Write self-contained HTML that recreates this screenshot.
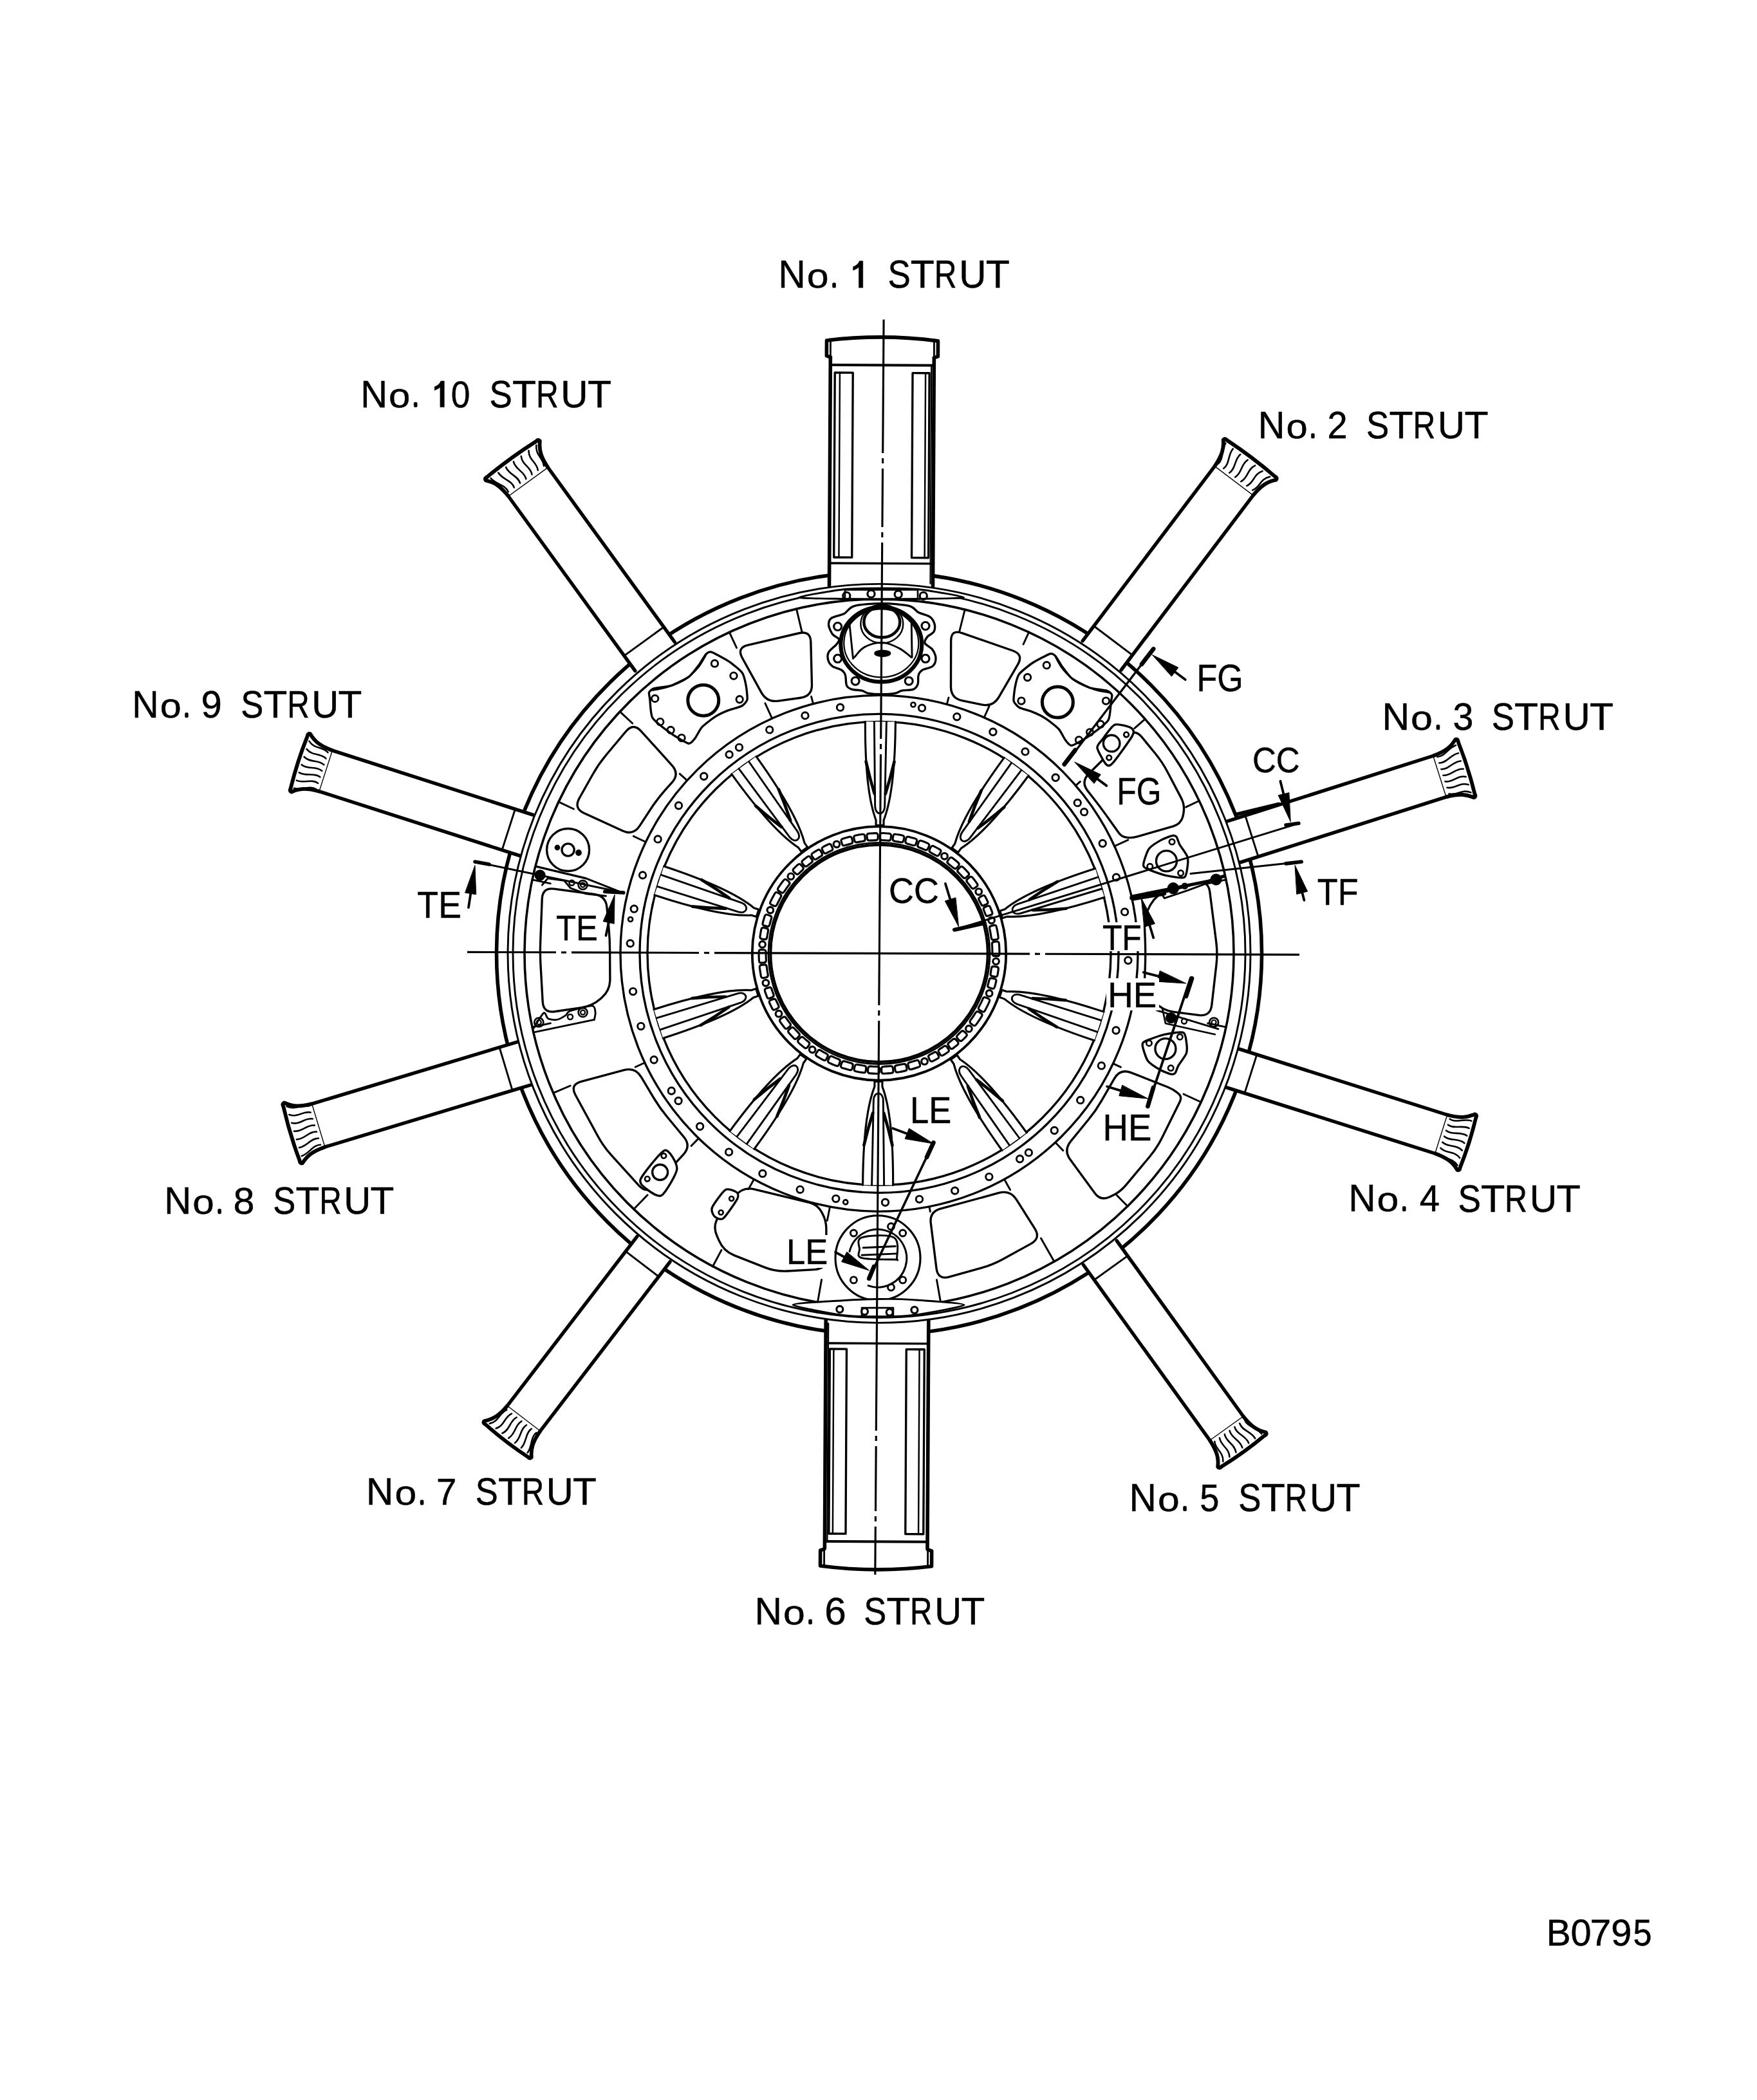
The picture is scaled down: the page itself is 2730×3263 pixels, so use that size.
<!DOCTYPE html>
<html><head><meta charset="utf-8"><style>html,body{margin:0;padding:0;background:#fff;}svg{display:block;}</style></head>
<body>
<svg xmlns="http://www.w3.org/2000/svg" width="2730" height="3263" viewBox="0 0 2730 3263">
<rect width="2730" height="3263" fill="#fff"/>
<g transform="translate(1366.0,1481.4) rotate(0.3)" stroke="#000" fill="none" stroke-linecap="round" stroke-linejoin="round">
<ellipse cx="0.0" cy="0.0" rx="594.5" ry="592.5" stroke-width="5.60" fill="none" transform="rotate(0 0.0 0.0)"/>
<ellipse cx="0.0" cy="0.0" rx="577.0" ry="574.0" stroke-width="2.91" fill="none" transform="rotate(0 0.0 0.0)"/>
<ellipse cx="0.0" cy="0.0" rx="569.0" ry="566.0" stroke-width="2.91" fill="none" transform="rotate(0 0.0 0.0)"/>
<ellipse cx="0.0" cy="0.0" rx="551.0" ry="550.5" stroke-width="3.58" fill="none" transform="rotate(0 0.0 0.0)"/>
<ellipse cx="0.0" cy="0.0" rx="402.0" ry="401.0" stroke-width="3.36" fill="none" transform="rotate(0 0.0 0.0)"/>
<ellipse cx="0.0" cy="0.0" rx="372.0" ry="372.0" stroke-width="3.36" fill="none" transform="rotate(0 0.0 0.0)"/>
<ellipse cx="0.0" cy="0.0" rx="360.0" ry="360.0" stroke-width="3.36" fill="none" transform="rotate(0 0.0 0.0)"/>
<ellipse cx="0.0" cy="0.0" rx="197.2" ry="197.2" stroke-width="3.81" fill="none" transform="rotate(0 0.0 0.0)"/>
<ellipse cx="0.0" cy="0.0" rx="172.0" ry="172.0" stroke-width="2.80" fill="none" transform="rotate(0 0.0 0.0)"/>
<ellipse cx="0.0" cy="0.0" rx="168.7" ry="168.7" stroke-width="4.03" fill="none" transform="rotate(0 0.0 0.0)"/>
<path d="M 108.4,-148.1 Q 110.4,-150.9 113.2,-148.8 L 115.0,-147.4 Q 117.8,-145.2 120.5,-143.0 L 122.2,-141.5 Q 124.9,-139.2 122.5,-136.6 L 119.9,-133.6 Q 117.5,-131.0 114.9,-133.3 L 113.5,-134.4 Q 110.9,-136.7 108.1,-138.8 L 106.7,-139.9 Q 103.9,-142.0 106.0,-144.8 Z" stroke-width="3.14" fill="none" />
<path d="M 124.9,-134.4 Q 127.3,-137.0 129.8,-134.5 L 131.4,-132.9 Q 133.9,-130.5 136.3,-127.9 L 137.9,-126.2 Q 140.3,-123.7 137.6,-121.4 L 134.6,-118.7 Q 132.0,-116.4 129.6,-119.0 L 128.4,-120.2 Q 126.1,-122.8 123.6,-125.3 L 122.3,-126.5 Q 119.8,-128.9 122.2,-131.5 Z" stroke-width="3.14" fill="none" />
<path d="M 139.7,-118.9 Q 142.4,-121.2 144.6,-118.5 L 146.1,-116.7 Q 148.3,-114.0 150.3,-111.1 L 151.7,-109.3 Q 153.7,-106.5 150.9,-104.5 L 147.6,-102.2 Q 144.7,-100.2 142.6,-103.0 L 141.6,-104.4 Q 139.5,-107.3 137.3,-110.0 L 136.2,-111.3 Q 134.0,-114.1 136.7,-116.3 Z" stroke-width="3.14" fill="none" />
<path d="M 159.8,-90.4 Q 162.8,-92.1 164.4,-89.1 L 164.7,-88.5 Q 166.3,-85.5 167.8,-82.4 L 168.1,-81.8 Q 169.6,-78.7 166.5,-77.3 L 162.6,-75.5 Q 159.6,-74.1 158.2,-77.0 L 157.9,-77.6 Q 156.5,-80.4 155.0,-83.3 L 154.7,-83.8 Q 153.2,-86.7 156.0,-88.2 Z" stroke-width="3.14" fill="none" />
<path d="M 167.8,-74.4 Q 171.0,-75.8 172.3,-72.6 L 172.5,-72.0 Q 173.9,-68.8 175.1,-65.6 L 175.3,-65.0 Q 176.5,-61.8 173.3,-60.7 L 169.1,-59.2 Q 166.1,-58.2 165.0,-61.2 L 164.8,-61.8 Q 163.6,-64.8 162.4,-67.8 L 162.2,-68.3 Q 160.9,-71.3 163.8,-72.6 Z" stroke-width="3.14" fill="none" />
<path d="M 178.0,-44.7 Q 181.4,-45.6 182.1,-42.1 L 183.1,-37.7 Q 183.8,-34.3 184.4,-30.9 L 185.0,-26.4 Q 185.6,-23.0 182.1,-22.5 L 178.1,-22.0 Q 174.7,-21.6 174.1,-25.1 L 173.5,-28.8 Q 173.0,-32.3 172.3,-35.7 L 171.4,-39.5 Q 170.7,-42.9 174.1,-43.7 Z" stroke-width="3.14" fill="none" />
<path d="M 182.5,-19.3 Q 186.0,-19.7 186.2,-16.2 L 186.6,-11.7 Q 186.8,-8.2 186.9,-4.7 L 186.9,-0.2 Q 187.0,3.3 183.5,3.2 L 179.5,3.1 Q 176.0,3.1 175.9,-0.4 L 175.9,-4.3 Q 175.8,-7.8 175.6,-11.2 L 175.3,-15.1 Q 175.0,-18.5 178.5,-18.9 Z" stroke-width="3.14" fill="none" />
<path d="M 182.4,19.8 Q 185.9,20.2 185.5,23.7 L 185.3,24.7 Q 184.9,28.1 184.3,31.6 L 184.1,32.6 Q 183.5,36.0 180.1,35.3 L 176.1,34.5 Q 172.7,33.9 173.3,30.5 L 173.4,29.8 Q 174.0,26.5 174.4,23.1 L 174.5,22.4 Q 175.0,19.0 178.4,19.4 Z" stroke-width="3.14" fill="none" />
<path d="M 179.4,38.5 Q 182.8,39.2 182.0,42.6 L 181.8,43.6 Q 181.0,47.0 180.1,50.3 L 179.8,51.3 Q 178.8,54.7 175.5,53.7 L 171.6,52.5 Q 168.3,51.5 169.2,48.2 L 169.4,47.5 Q 170.4,44.2 171.1,40.9 L 171.3,40.2 Q 172.1,36.9 175.4,37.6 Z" stroke-width="3.14" fill="none" />
<path d="M 169.9,69.3 Q 173.1,70.7 171.7,73.9 L 170.0,77.8 Q 168.5,81.0 166.9,84.1 L 164.9,88.0 Q 163.3,91.1 160.3,89.4 L 156.8,87.4 Q 153.7,85.7 155.3,82.6 L 157.0,79.4 Q 158.6,76.3 160.0,73.1 L 161.5,69.7 Q 163.0,66.5 166.2,67.8 Z" stroke-width="3.14" fill="none" />
<path d="M 158.7,92.2 Q 161.7,93.9 159.9,96.9 L 157.6,100.6 Q 155.7,103.6 153.7,106.4 L 151.2,109.9 Q 149.1,112.8 146.4,110.7 L 143.2,108.3 Q 140.4,106.2 142.4,103.3 L 144.5,100.3 Q 146.6,97.5 148.4,94.5 L 150.3,91.4 Q 152.2,88.4 155.2,90.2 Z" stroke-width="3.14" fill="none" />
<path d="M 135.7,123.5 Q 138.3,125.9 135.9,128.4 L 135.4,128.9 Q 133.0,131.5 130.5,133.9 L 129.9,134.4 Q 127.4,136.9 125.0,134.3 L 122.2,131.3 Q 119.9,128.8 122.3,126.5 L 122.8,126.1 Q 125.2,123.7 127.4,121.3 L 127.9,120.9 Q 130.2,118.5 132.6,120.7 Z" stroke-width="3.14" fill="none" />
<path d="M 122.7,136.5 Q 125.0,139.1 122.4,141.4 L 121.8,141.9 Q 119.1,144.1 116.4,146.3 L 115.8,146.8 Q 113.1,149.0 110.9,146.2 L 108.4,142.8 Q 106.4,140.2 109.0,138.1 L 109.5,137.7 Q 112.1,135.7 114.6,133.5 L 115.1,133.1 Q 117.7,130.9 119.9,133.4 Z" stroke-width="3.14" fill="none" />
<path d="M 108.4,148.1 Q 110.4,150.9 107.6,152.9 L 107.0,153.3 Q 104.1,155.3 101.1,157.2 L 100.5,157.6 Q 97.6,159.5 95.7,156.5 L 93.6,153.0 Q 91.8,150.1 94.6,148.4 L 95.2,148.0 Q 98.0,146.2 100.7,144.3 L 101.2,143.9 Q 103.9,142.0 105.9,144.7 Z" stroke-width="3.14" fill="none" />
<path d="M 93.0,158.2 Q 94.8,161.2 91.7,162.9 L 91.1,163.3 Q 88.0,165.0 84.9,166.6 L 84.2,166.9 Q 81.1,168.5 79.6,165.3 L 77.8,161.6 Q 76.3,158.6 79.3,157.1 L 79.9,156.8 Q 82.8,155.3 85.7,153.7 L 86.3,153.3 Q 89.2,151.7 90.9,154.6 Z" stroke-width="3.14" fill="none" />
<path d="M 64.3,171.9 Q 65.5,175.2 62.2,176.3 L 60.0,177.0 Q 56.7,178.2 53.4,179.2 L 51.2,179.8 Q 47.8,180.8 47.0,177.4 L 45.9,173.5 Q 45.0,170.1 48.4,169.2 L 50.0,168.7 Q 53.4,167.7 56.7,166.6 L 58.3,166.0 Q 61.6,164.9 62.9,168.1 Z" stroke-width="3.14" fill="none" />
<path d="M 43.8,178.2 Q 44.7,181.6 41.3,182.3 L 39.1,182.8 Q 35.6,183.6 32.2,184.2 L 30.0,184.5 Q 26.5,185.1 26.0,181.6 L 25.4,177.7 Q 25.0,174.2 28.4,173.6 L 30.1,173.4 Q 33.5,172.8 37.0,172.0 L 38.6,171.7 Q 42.1,170.9 42.9,174.3 Z" stroke-width="3.14" fill="none" />
<path d="M 22.8,182.1 Q 23.3,185.5 19.8,185.9 L 17.5,186.1 Q 14.1,186.5 10.6,186.6 L 8.3,186.8 Q 4.8,186.9 4.7,183.4 L 4.6,179.4 Q 4.5,175.9 8.0,175.8 L 9.7,175.7 Q 13.2,175.5 16.7,175.2 L 18.4,175.0 Q 21.9,174.6 22.3,178.1 Z" stroke-width="3.14" fill="none" />
<path d="M 1.5,183.5 Q 1.6,187.0 -1.9,186.9 L -4.2,186.9 Q -7.7,186.8 -11.2,186.6 L -13.5,186.5 Q -16.9,186.2 -16.6,182.7 L -16.3,178.8 Q -16.0,175.3 -12.5,175.5 L -10.7,175.6 Q -7.3,175.9 -3.8,175.9 L -2.0,175.9 Q 1.5,176.0 1.5,179.5 Z" stroke-width="3.14" fill="none" />
<path d="M -19.8,182.4 Q -20.2,185.9 -23.7,185.4 L -25.9,185.1 Q -29.4,184.7 -32.8,184.0 L -35.0,183.6 Q -38.5,183.0 -37.8,179.6 L -36.9,175.7 Q -36.2,172.2 -32.8,172.9 L -31.1,173.2 Q -27.6,173.8 -24.2,174.3 L -22.5,174.5 Q -19.0,175.0 -19.4,178.5 Z" stroke-width="3.14" fill="none" />
<path d="M -40.9,178.9 Q -41.7,182.3 -45.1,181.4 L -47.2,180.9 Q -50.6,180.0 -54.0,179.0 L -56.1,178.3 Q -59.5,177.3 -58.4,174.0 L -57.1,170.2 Q -56.0,166.9 -52.6,167.9 L -51.0,168.4 Q -47.7,169.4 -44.3,170.3 L -42.6,170.7 Q -39.2,171.6 -40.0,175.0 Z" stroke-width="3.14" fill="none" />
<path d="M -61.4,172.9 Q -62.6,176.2 -65.8,175.0 L -68.0,174.2 Q -71.2,172.9 -74.4,171.5 L -76.5,170.6 Q -79.7,169.2 -78.2,166.0 L -76.5,162.4 Q -75.0,159.2 -71.8,160.6 L -70.2,161.3 Q -67.0,162.7 -63.8,164.0 L -62.2,164.6 Q -58.9,165.9 -60.1,169.2 Z" stroke-width="3.14" fill="none" />
<path d="M -81.1,164.6 Q -82.6,167.8 -85.7,166.1 L -87.7,165.1 Q -90.8,163.5 -93.9,161.7 L -95.8,160.5 Q -98.8,158.8 -97.0,155.8 L -94.9,152.4 Q -93.0,149.4 -90.0,151.2 L -88.5,152.1 Q -85.5,153.8 -82.4,155.5 L -80.9,156.3 Q -77.8,157.9 -79.3,161.0 Z" stroke-width="3.14" fill="none" />
<path d="M -110.7,146.4 Q -112.8,149.1 -115.5,147.0 L -117.3,145.6 Q -120.0,143.4 -122.7,141.1 L -124.3,139.6 Q -127.0,137.3 -124.6,134.7 L -121.9,131.8 Q -119.5,129.2 -116.9,131.5 L -115.6,132.6 Q -113.0,135.0 -110.2,137.1 L -108.9,138.2 Q -106.2,140.4 -108.3,143.2 Z" stroke-width="3.14" fill="none" />
<path d="M -126.9,132.5 Q -129.4,135.0 -131.8,132.6 L -133.4,131.0 Q -135.9,128.5 -138.2,125.9 L -139.7,124.2 Q -142.1,121.6 -139.4,119.3 L -136.4,116.7 Q -133.7,114.5 -131.4,117.1 L -130.2,118.3 Q -127.9,120.9 -125.4,123.4 L -124.2,124.6 Q -121.7,127.1 -124.2,129.6 Z" stroke-width="3.14" fill="none" />
<path d="M -141.5,116.9 Q -144.2,119.1 -146.3,116.4 L -147.7,114.6 Q -149.9,111.8 -151.9,109.0 L -153.2,107.2 Q -155.2,104.3 -152.3,102.3 L -149.0,100.1 Q -146.1,98.2 -144.1,101.0 L -143.1,102.4 Q -141.1,105.3 -138.9,108.0 L -137.8,109.4 Q -135.7,112.1 -138.4,114.3 Z" stroke-width="3.14" fill="none" />
<path d="M -161.0,88.1 Q -164.0,89.8 -165.6,86.7 L -166.2,85.5 Q -167.9,82.4 -169.3,79.2 L -169.9,78.0 Q -171.4,74.9 -168.2,73.5 L -164.5,71.9 Q -161.3,70.5 -159.8,73.6 L -159.5,74.4 Q -158.0,77.6 -156.4,80.7 L -156.0,81.4 Q -154.4,84.5 -157.4,86.2 Z" stroke-width="3.14" fill="none" />
<path d="M -169.4,70.5 Q -172.6,71.9 -173.9,68.6 L -174.4,67.4 Q -175.7,64.1 -176.8,60.8 L -177.2,59.5 Q -178.3,56.2 -175.0,55.2 L -171.2,54.0 Q -167.9,52.9 -166.7,56.2 L -166.5,57.0 Q -165.3,60.3 -164.1,63.6 L -163.8,64.4 Q -162.5,67.6 -165.7,69.0 Z" stroke-width="3.14" fill="none" />
<path d="M -179.3,39.1 Q -182.7,39.8 -183.4,36.4 L -184.0,33.0 Q -184.6,29.6 -185.1,26.1 L -185.6,22.7 Q -186.0,19.2 -182.5,18.9 L -178.5,18.5 Q -175.1,18.1 -174.6,21.6 L -174.2,24.4 Q -173.8,27.8 -173.1,31.3 L -172.6,34.1 Q -172.0,37.5 -175.4,38.2 Z" stroke-width="3.14" fill="none" />
<path d="M -182.8,15.7 Q -186.3,16.0 -186.5,12.5 L -186.7,9.0 Q -186.9,5.5 -186.9,2.0 L -186.9,-1.4 Q -186.9,-4.9 -183.4,-4.8 L -179.4,-4.7 Q -175.9,-4.6 -175.9,-1.1 L -175.9,1.7 Q -175.9,5.2 -175.7,8.7 L -175.6,11.5 Q -175.4,15.0 -178.8,15.3 Z" stroke-width="3.14" fill="none" />
<path d="M -182.2,-21.4 Q -185.7,-21.8 -185.2,-25.3 L -184.9,-27.3 Q -184.4,-30.8 -183.8,-34.2 L -183.4,-36.2 Q -182.7,-39.7 -179.3,-38.9 L -175.4,-38.1 Q -172.0,-37.3 -172.7,-33.9 L -172.9,-32.4 Q -173.6,-29.0 -174.1,-25.5 L -174.3,-24.0 Q -174.8,-20.5 -178.3,-20.9 Z" stroke-width="3.14" fill="none" />
<path d="M -178.6,-42.1 Q -182.0,-42.9 -181.1,-46.2 L -180.6,-48.2 Q -179.7,-51.6 -178.7,-55.0 L -178.1,-56.9 Q -177.0,-60.3 -173.7,-59.1 L -169.9,-57.8 Q -166.6,-56.7 -167.7,-53.4 L -168.1,-51.9 Q -169.2,-48.6 -170.0,-45.2 L -170.4,-43.7 Q -171.3,-40.3 -174.7,-41.1 Z" stroke-width="3.14" fill="none" />
<path d="M -167.6,-74.6 Q -170.8,-76.1 -169.3,-79.2 L -167.7,-82.6 Q -166.2,-85.8 -164.5,-88.8 L -162.7,-92.1 Q -161.0,-95.2 -157.9,-93.4 L -154.5,-91.4 Q -151.5,-89.6 -153.2,-86.5 L -154.7,-83.8 Q -156.4,-80.7 -157.9,-77.6 L -159.3,-74.7 Q -160.8,-71.6 -164.0,-73.0 Z" stroke-width="3.14" fill="none" />
<path d="M -156.3,-96.2 Q -159.3,-98.0 -157.4,-100.9 L -155.3,-104.1 Q -153.4,-107.0 -151.3,-109.8 L -149.0,-112.8 Q -147.0,-115.6 -144.2,-113.5 L -141.1,-111.0 Q -138.3,-108.8 -140.4,-106.0 L -142.3,-103.5 Q -144.3,-100.7 -146.3,-97.8 L -148.0,-95.1 Q -149.9,-92.2 -152.9,-94.1 Z" stroke-width="3.14" fill="none" />
<path d="M -133.3,-126.1 Q -135.9,-128.5 -133.4,-131.0 L -132.8,-131.6 Q -130.3,-134.1 -127.8,-136.5 L -127.1,-137.1 Q -124.5,-139.5 -122.2,-136.9 L -119.4,-133.8 Q -117.2,-131.3 -119.7,-129.0 L -120.2,-128.5 Q -122.6,-126.2 -125.0,-123.8 L -125.5,-123.3 Q -127.9,-120.9 -130.3,-123.3 Z" stroke-width="3.14" fill="none" />
<path d="M -119.8,-139.0 Q -122.1,-141.7 -119.4,-143.9 L -118.7,-144.5 Q -116.0,-146.7 -113.2,-148.8 L -112.4,-149.4 Q -109.7,-151.5 -107.6,-148.6 L -105.2,-145.3 Q -103.2,-142.6 -105.9,-140.5 L -106.4,-140.1 Q -109.1,-138.1 -111.8,-135.9 L -112.3,-135.5 Q -114.9,-133.3 -117.1,-135.9 Z" stroke-width="3.14" fill="none" />
<path d="M -105.0,-150.5 Q -107.0,-153.4 -104.1,-155.3 L -103.3,-155.8 Q -100.4,-157.8 -97.4,-159.6 L -96.6,-160.0 Q -93.6,-161.9 -91.9,-158.8 L -89.8,-155.3 Q -88.1,-152.3 -91.0,-150.6 L -91.6,-150.2 Q -94.5,-148.5 -97.3,-146.6 L -97.9,-146.2 Q -100.7,-144.3 -102.6,-147.1 Z" stroke-width="3.14" fill="none" />
<path d="M -89.1,-160.4 Q -90.8,-163.5 -87.7,-165.1 L -86.9,-165.5 Q -83.8,-167.2 -80.6,-168.7 L -79.8,-169.1 Q -76.7,-170.6 -75.2,-167.4 L -73.5,-163.6 Q -72.1,-160.5 -75.2,-159.1 L -75.8,-158.8 Q -78.9,-157.3 -81.9,-155.8 L -82.5,-155.4 Q -85.5,-153.9 -87.1,-156.8 Z" stroke-width="3.14" fill="none" />
<path d="M -59.7,-173.5 Q -60.9,-176.8 -57.5,-177.9 L -55.9,-178.4 Q -52.5,-179.5 -49.1,-180.4 L -47.4,-180.8 Q -44.1,-181.7 -43.2,-178.3 L -42.3,-174.4 Q -41.5,-171.0 -44.8,-170.1 L -46.1,-169.8 Q -49.4,-168.9 -52.8,-167.9 L -54.0,-167.5 Q -57.3,-166.4 -58.4,-169.7 Z" stroke-width="3.14" fill="none" />
<path d="M -40.1,-179.1 Q -40.9,-182.5 -37.4,-183.2 L -35.7,-183.5 Q -32.3,-184.2 -28.8,-184.7 L -27.1,-185.0 Q -23.6,-185.5 -23.2,-182.0 L -22.7,-178.1 Q -22.2,-174.6 -25.7,-174.1 L -26.9,-173.9 Q -30.4,-173.4 -33.8,-172.7 L -35.0,-172.4 Q -38.5,-171.7 -39.2,-175.2 Z" stroke-width="3.14" fill="none" />
<path d="M -20.0,-182.4 Q -20.4,-185.9 -16.9,-186.2 L -15.1,-186.3 Q -11.6,-186.6 -8.1,-186.8 L -6.4,-186.8 Q -2.9,-187.0 -2.8,-183.5 L -2.7,-179.5 Q -2.7,-176.0 -6.2,-175.8 L -7.4,-175.8 Q -10.9,-175.7 -14.4,-175.4 L -15.7,-175.3 Q -19.2,-175.0 -19.5,-178.4 Z" stroke-width="3.14" fill="none" />
<path d="M 0.4,-183.5 Q 0.4,-187.0 3.9,-186.9 L 5.7,-186.9 Q 9.2,-186.8 12.7,-186.5 L 14.4,-186.4 Q 17.9,-186.1 17.6,-182.7 L 17.2,-178.7 Q 16.9,-175.2 13.4,-175.4 L 12.1,-175.5 Q 8.6,-175.8 5.1,-175.9 L 3.9,-175.9 Q 0.4,-176.0 0.4,-179.5 Z" stroke-width="3.14" fill="none" />
<path d="M 20.8,-182.3 Q 21.2,-185.8 24.6,-185.3 L 26.4,-185.1 Q 29.9,-184.6 33.3,-184.0 L 35.0,-183.6 Q 38.5,-183.0 37.8,-179.6 L 36.9,-175.7 Q 36.2,-172.2 32.8,-172.9 L 31.5,-173.1 Q 28.1,-173.7 24.6,-174.2 L 23.4,-174.4 Q 19.9,-174.9 20.3,-178.3 Z" stroke-width="3.14" fill="none" />
<path d="M 40.9,-178.9 Q 41.7,-182.3 45.1,-181.4 L 46.8,-181.0 Q 50.2,-180.1 53.5,-179.1 L 55.2,-178.6 Q 58.6,-177.6 57.5,-174.3 L 56.2,-170.5 Q 55.1,-167.1 51.8,-168.2 L 50.6,-168.5 Q 47.2,-169.5 43.8,-170.4 L 42.6,-170.7 Q 39.2,-171.6 40.0,-175.0 Z" stroke-width="3.14" fill="none" />
<path d="M 60.5,-173.2 Q 61.7,-176.5 64.9,-175.3 L 66.6,-174.7 Q 69.9,-173.5 73.1,-172.1 L 74.7,-171.4 Q 77.9,-170.0 76.5,-166.8 L 74.8,-163.2 Q 73.3,-160.0 70.1,-161.4 L 69.0,-161.9 Q 65.8,-163.3 62.5,-164.5 L 61.3,-164.9 Q 58.0,-166.2 59.2,-169.5 Z" stroke-width="3.14" fill="none" />
<path d="M 79.4,-165.5 Q 80.9,-168.6 84.0,-167.0 L 85.6,-166.2 Q 88.7,-164.6 91.7,-162.9 L 93.3,-162.0 Q 96.3,-160.3 94.5,-157.3 L 92.4,-153.9 Q 90.6,-150.9 87.6,-152.6 L 86.5,-153.2 Q 83.5,-154.9 80.4,-156.5 L 79.2,-157.1 Q 76.1,-158.7 77.6,-161.8 Z" stroke-width="3.14" fill="none" />
<circle cx="100.7" cy="-151.6" r="4.8" stroke-width="3.14" fill="none"/>
<circle cx="154.2" cy="-96.7" r="4.8" stroke-width="3.14" fill="none"/>
<circle cx="174.3" cy="-52.3" r="4.8" stroke-width="3.14" fill="none"/>
<circle cx="181.6" cy="11.4" r="4.8" stroke-width="3.14" fill="none"/>
<circle cx="171.5" cy="61.1" r="4.8" stroke-width="3.14" fill="none"/>
<circle cx="140.0" cy="116.3" r="4.8" stroke-width="3.14" fill="none"/>
<circle cx="71.4" cy="167.4" r="4.8" stroke-width="3.14" fill="none"/>
<circle cx="-103.1" cy="150.0" r="4.8" stroke-width="3.14" fill="none"/>
<circle cx="-155.5" cy="94.6" r="4.8" stroke-width="3.14" fill="none"/>
<circle cx="-175.9" cy="46.8" r="4.8" stroke-width="3.14" fill="none"/>
<circle cx="-181.5" cy="-13.0" r="4.8" stroke-width="3.14" fill="none"/>
<circle cx="-169.5" cy="-66.4" r="4.8" stroke-width="3.14" fill="none"/>
<circle cx="-137.8" cy="-118.9" r="4.8" stroke-width="3.14" fill="none"/>
<circle cx="-67.0" cy="-169.2" r="4.8" stroke-width="3.14" fill="none"/>
<path d="M -23.5,-360.0 C -23.5,-290.0 -18.0,-238.0 -6.0,-207.0 L -6.0,-199.0 L 6.0,-199.0 L 6.0,-207.0 C 18.0,-238.0 23.5,-290.0 23.5,-360.0" stroke-width="3.14" fill="white" />
<path d="M -9.5,-360.0 L -7.5,-228.0 C -7.0,-214.0 7.0,-214.0 7.5,-228.0 L 9.5,-360.0" stroke-width="2.91" fill="none" />
<path d="M -22.0,-298.0 Q -16.0,-272.0 -8.5,-248.0" stroke-width="4.70" fill="none" />
<path d="M 22.0,-298.0 Q 16.0,-272.0 8.5,-248.0" stroke-width="4.70" fill="none" />
<path d="M 192.6,-305.1 C 151.4,-248.4 125.3,-203.1 116.8,-171.0 L 112.1,-164.5 L 121.8,-157.5 L 126.5,-163.9 C 154.5,-182.0 189.5,-220.8 230.6,-277.4" stroke-width="3.14" fill="white" />
<path d="M 203.9,-296.8 L 127.9,-188.9 C 120.1,-177.2 131.4,-169.0 140.1,-180.0 L 219.3,-285.7" stroke-width="2.91" fill="none" />
<path d="M 157.4,-254.0 Q 146.9,-229.5 138.9,-205.6" stroke-width="4.70" fill="none" />
<path d="M 193.0,-228.2 Q 172.8,-210.6 152.6,-195.6" stroke-width="4.70" fill="none" />
<path d="M 335.1,-133.6 C 268.5,-112.0 220.8,-90.7 195.0,-69.7 L 187.4,-67.2 L 191.1,-55.8 L 198.7,-58.3 C 231.9,-56.4 283.1,-67.3 349.6,-88.9" stroke-width="3.14" fill="white" />
<path d="M 339.4,-120.3 L 214.5,-77.6 C 201.4,-72.8 205.7,-59.5 219.2,-63.3 L 345.3,-102.2" stroke-width="2.91" fill="none" />
<path d="M 276.6,-113.0 Q 253.7,-99.3 233.2,-84.7" stroke-width="4.70" fill="none" />
<path d="M 290.2,-71.2 Q 263.6,-68.8 238.5,-68.6" stroke-width="4.70" fill="none" />
<path d="M 349.6,88.9 C 283.1,67.3 231.9,56.4 198.7,58.3 L 191.1,55.8 L 187.4,67.2 L 195.0,69.7 C 220.8,90.7 268.5,112.0 335.1,133.6" stroke-width="3.14" fill="white" />
<path d="M 345.3,102.2 L 219.2,63.3 C 205.7,59.5 201.4,72.8 214.5,77.6 L 339.4,120.3" stroke-width="2.91" fill="none" />
<path d="M 290.2,71.2 Q 263.6,68.8 238.5,68.6" stroke-width="4.70" fill="none" />
<path d="M 276.6,113.0 Q 253.7,99.3 233.2,84.7" stroke-width="4.70" fill="none" />
<path d="M 230.6,277.4 C 189.5,220.8 154.5,182.0 126.5,163.9 L 121.8,157.5 L 112.1,164.5 L 116.8,171.0 C 125.3,203.1 151.4,248.4 192.6,305.1" stroke-width="3.14" fill="white" />
<path d="M 219.3,285.7 L 140.1,180.0 C 131.4,169.0 120.1,177.2 127.9,188.9 L 203.9,296.8" stroke-width="2.91" fill="none" />
<path d="M 193.0,228.2 Q 172.8,210.6 152.6,195.6" stroke-width="4.70" fill="none" />
<path d="M 157.4,254.0 Q 146.9,229.5 138.9,205.6" stroke-width="4.70" fill="none" />
<path d="M 23.5,360.0 C 23.5,290.0 18.0,238.0 6.0,207.0 L 6.0,199.0 L -6.0,199.0 L -6.0,207.0 C -18.0,238.0 -23.5,290.0 -23.5,360.0" stroke-width="3.14" fill="white" />
<path d="M 9.5,360.0 L 7.5,228.0 C 7.0,214.0 -7.0,214.0 -7.5,228.0 L -9.5,360.0" stroke-width="2.91" fill="none" />
<path d="M 22.0,298.0 Q 16.0,272.0 8.5,248.0" stroke-width="4.70" fill="none" />
<path d="M -22.0,298.0 Q -16.0,272.0 -8.5,248.0" stroke-width="4.70" fill="none" />
<path d="M -192.6,305.1 C -151.4,248.4 -125.3,203.1 -116.8,171.0 L -112.1,164.5 L -121.8,157.5 L -126.5,163.9 C -154.5,182.0 -189.5,220.8 -230.6,277.4" stroke-width="3.14" fill="white" />
<path d="M -203.9,296.8 L -127.9,188.9 C -120.1,177.2 -131.4,169.0 -140.1,180.0 L -219.3,285.7" stroke-width="2.91" fill="none" />
<path d="M -157.4,254.0 Q -146.9,229.5 -138.9,205.6" stroke-width="4.70" fill="none" />
<path d="M -193.0,228.2 Q -172.8,210.6 -152.6,195.6" stroke-width="4.70" fill="none" />
<path d="M -335.1,133.6 C -268.5,112.0 -220.8,90.7 -195.0,69.7 L -187.4,67.2 L -191.1,55.8 L -198.7,58.3 C -231.9,56.4 -283.1,67.3 -349.6,88.9" stroke-width="3.14" fill="white" />
<path d="M -339.4,120.3 L -214.5,77.6 C -201.4,72.8 -205.7,59.5 -219.2,63.3 L -345.3,102.2" stroke-width="2.91" fill="none" />
<path d="M -276.6,113.0 Q -253.7,99.3 -233.2,84.7" stroke-width="4.70" fill="none" />
<path d="M -290.2,71.2 Q -263.6,68.8 -238.5,68.6" stroke-width="4.70" fill="none" />
<path d="M -349.6,-88.9 C -283.1,-67.3 -231.9,-56.4 -198.7,-58.3 L -191.1,-55.8 L -187.4,-67.2 L -195.0,-69.7 C -220.8,-90.7 -268.5,-112.0 -335.1,-133.6" stroke-width="3.14" fill="white" />
<path d="M -345.3,-102.2 L -219.2,-63.3 C -205.7,-59.5 -201.4,-72.8 -214.5,-77.6 L -339.4,-120.3" stroke-width="2.91" fill="none" />
<path d="M -290.2,-71.2 Q -263.6,-68.8 -238.5,-68.6" stroke-width="4.70" fill="none" />
<path d="M -276.6,-113.0 Q -253.7,-99.3 -233.2,-84.7" stroke-width="4.70" fill="none" />
<path d="M -230.6,-277.4 C -189.5,-220.8 -154.5,-182.0 -126.5,-163.9 L -121.8,-157.5 L -112.1,-164.5 L -116.8,-171.0 C -125.3,-203.1 -151.4,-248.4 -192.6,-305.1" stroke-width="3.14" fill="white" />
<path d="M -219.3,-285.7 L -140.1,-180.0 C -131.4,-169.0 -120.1,-177.2 -127.9,-188.9 L -203.9,-296.8" stroke-width="2.91" fill="none" />
<path d="M -193.0,-228.2 Q -172.8,-210.6 -152.6,-195.6" stroke-width="4.70" fill="none" />
<path d="M -157.4,-254.0 Q -146.9,-229.5 -138.9,-205.6" stroke-width="4.70" fill="none" />
<circle cx="64.5" cy="-381.6" r="5.2" stroke-width="2.91" fill="none"/>
<circle cx="118.9" cy="-368.3" r="5.2" stroke-width="2.91" fill="none"/>
<circle cx="175.1" cy="-345.1" r="5.2" stroke-width="2.91" fill="none"/>
<circle cx="225.3" cy="-314.7" r="5.2" stroke-width="2.91" fill="none"/>
<circle cx="272.7" cy="-274.6" r="5.2" stroke-width="2.91" fill="none"/>
<circle cx="307.0" cy="-235.6" r="5.2" stroke-width="2.91" fill="none"/>
<circle cx="317.4" cy="-221.4" r="5.2" stroke-width="2.91" fill="none"/>
<circle cx="346.3" cy="-172.7" r="5.2" stroke-width="2.91" fill="none"/>
<circle cx="367.8" cy="-120.2" r="5.2" stroke-width="2.91" fill="none"/>
<circle cx="381.2" cy="-66.5" r="5.2" stroke-width="2.91" fill="none"/>
<circle cx="386.9" cy="8.8" r="5.2" stroke-width="2.91" fill="none"/>
<circle cx="368.7" cy="117.7" r="5.2" stroke-width="2.91" fill="none"/>
<circle cx="346.3" cy="172.7" r="5.2" stroke-width="2.91" fill="none"/>
<circle cx="313.9" cy="226.4" r="5.2" stroke-width="2.91" fill="none"/>
<circle cx="273.7" cy="273.7" r="5.2" stroke-width="2.91" fill="none"/>
<circle cx="234.0" cy="308.3" r="5.2" stroke-width="2.91" fill="none"/>
<circle cx="220.3" cy="318.2" r="5.2" stroke-width="2.91" fill="none"/>
<circle cx="172.7" cy="346.3" r="5.2" stroke-width="2.91" fill="none"/>
<circle cx="119.6" cy="368.1" r="5.2" stroke-width="2.91" fill="none"/>
<circle cx="64.5" cy="381.6" r="5.2" stroke-width="2.91" fill="none"/>
<circle cx="11.5" cy="386.8" r="5.2" stroke-width="2.91" fill="none"/>
<circle cx="-65.2" cy="381.5" r="5.2" stroke-width="2.91" fill="none"/>
<circle cx="-120.9" cy="367.6" r="5.2" stroke-width="2.91" fill="none"/>
<circle cx="-179.3" cy="343.0" r="5.2" stroke-width="2.91" fill="none"/>
<circle cx="-231.8" cy="309.9" r="5.2" stroke-width="2.91" fill="none"/>
<circle cx="-277.0" cy="270.3" r="5.2" stroke-width="2.91" fill="none"/>
<circle cx="-310.7" cy="230.7" r="5.2" stroke-width="2.91" fill="none"/>
<circle cx="-321.6" cy="215.3" r="5.2" stroke-width="2.91" fill="none"/>
<circle cx="-349.0" cy="167.2" r="5.2" stroke-width="2.91" fill="none"/>
<circle cx="-369.5" cy="115.1" r="5.2" stroke-width="2.91" fill="none"/>
<circle cx="-382.1" cy="61.2" r="5.2" stroke-width="2.91" fill="none"/>
<circle cx="-386.8" cy="-13.5" r="5.2" stroke-width="2.91" fill="none"/>
<circle cx="-381.1" cy="-67.2" r="5.2" stroke-width="2.91" fill="none"/>
<circle cx="-368.1" cy="-119.6" r="5.2" stroke-width="2.91" fill="none"/>
<circle cx="-344.8" cy="-175.7" r="5.2" stroke-width="2.91" fill="none"/>
<circle cx="-312.7" cy="-228.0" r="5.2" stroke-width="2.91" fill="none"/>
<circle cx="-273.7" cy="-273.7" r="5.2" stroke-width="2.91" fill="none"/>
<circle cx="-234.5" cy="-307.8" r="5.2" stroke-width="2.91" fill="none"/>
<circle cx="-219.2" cy="-318.9" r="5.2" stroke-width="2.91" fill="none"/>
<circle cx="-172.1" cy="-346.6" r="5.2" stroke-width="2.91" fill="none"/>
<circle cx="-117.0" cy="-368.9" r="5.2" stroke-width="2.91" fill="none"/>
<circle cx="-62.5" cy="-381.9" r="5.2" stroke-width="2.91" fill="none"/>
<circle cx="50.9" cy="-386.7" r="3.5" stroke-width="2.69" fill="none"/>
<circle cx="-50.2" cy="386.8" r="3.5" stroke-width="2.69" fill="none"/>
<circle cx="-386.7" cy="-50.9" r="3.5" stroke-width="2.69" fill="none"/>
<path d="M 109.1,-486.3 Q 109.0,-504.3 126.1,-498.5 L 205.1,-471.5 Q 222.1,-465.7 213.2,-450.1 L 183.9,-399.3 Q 174.9,-383.7 157.2,-387.3 L 127.0,-393.4 Q 109.4,-397.0 109.3,-415.0 Z" stroke-width="3.36" fill="none" />
<path d="M 382.3,-339.1 Q 395.0,-351.9 406.5,-338.1 L 427.2,-313.1 Q 438.7,-299.2 447.1,-283.3 L 468.0,-244.0 Q 474.2,-232.3 471.6,-219.3 L 471.1,-216.7 Q 468.6,-203.8 455.9,-200.0 L 399.4,-183.3 Q 392.2,-181.2 384.7,-182.1 L 383.2,-182.3 Q 375.7,-183.2 371.3,-189.4 L 350.9,-217.6 Q 340.4,-232.2 329.1,-246.2 L 322.9,-254.0 Q 311.6,-268.0 324.3,-280.8 Z" stroke-width="3.36" fill="none" />
<path d="M 366.6,192.3 Q 375.5,176.7 392.3,183.2 L 449.9,205.5 Q 457.7,208.6 464.3,213.9 L 465.6,214.9 Q 472.2,220.2 468.5,227.8 L 441.2,283.8 Q 433.3,300.0 421.8,313.9 L 385.4,357.9 Q 375.9,369.4 362.3,375.5 L 359.6,376.7 Q 345.9,382.9 337.1,370.9 L 298.6,318.9 Q 287.9,304.4 299.2,290.4 L 326.5,256.7 Q 337.8,242.8 346.7,227.1 Z" stroke-width="3.36" fill="none" />
<path d="M 215.3,381.4 Q 205.5,366.3 188.2,371.1 L 97.5,396.3 Q 80.1,401.1 82.5,418.9 L 91.6,489.1 Q 94.0,507.0 111.3,502.1 L 161.4,487.9 Q 178.7,483.0 194.4,474.3 L 238.0,450.0 Q 253.7,441.3 244.0,426.1 Z" stroke-width="3.36" fill="none" />
<path d="M -87.5,402.0 Q -93.8,390.9 -106.3,387.9 L -192.3,367.5 Q -209.8,363.4 -221.0,377.5 L -246.0,408.9 Q -257.2,423.0 -250.0,439.5 L -246.6,447.3 Q -239.4,463.9 -222.6,470.4 L -174.9,488.9 Q -158.1,495.4 -140.1,494.3 L -97.4,491.7 Q -79.5,490.6 -79.6,472.6 L -79.9,428.2 Q -80.0,415.4 -86.3,404.2 Z" stroke-width="3.36" fill="none" />
<path d="M -302.5,314.0 Q -290.4,300.7 -301.9,286.9 L -328.8,254.8 Q -340.3,241.0 -349.6,225.6 L -368.6,194.1 Q -377.9,178.6 -395.3,183.4 L -462.1,201.7 Q -479.4,206.5 -470.8,222.3 L -435.5,286.4 Q -426.8,302.2 -414.7,315.5 L -371.4,362.7 Q -359.3,375.9 -347.1,362.7 Z" stroke-width="3.36" fill="none" />
<path d="M -399.4,-188.4 Q -383.0,-181.0 -373.2,-196.1 L -355.1,-224.0 Q -345.3,-239.1 -333.4,-252.6 L -323.3,-263.9 Q -311.3,-277.4 -323.5,-290.7 L -371.7,-343.4 Q -383.9,-356.7 -395.3,-342.8 L -426.1,-305.7 Q -437.6,-291.8 -446.3,-276.1 L -467.1,-238.7 Q -475.9,-222.9 -459.5,-215.5 Z" stroke-width="3.36" fill="none" />
<path d="M -215.1,-458.0 Q -223.9,-473.7 -206.4,-477.9 L -126.8,-497.0 Q -109.3,-501.2 -108.7,-483.2 L -106.7,-417.1 Q -106.2,-399.1 -124.0,-396.5 L -158.6,-391.5 Q -176.4,-388.9 -185.2,-404.6 Z" stroke-width="3.36" fill="none" />
<path d="M 421.6,-78.4 Q 429.9,-93.7 446.7,-98.4 L 493.6,-111.3 Q 511.0,-116.1 513.3,-98.2 L 523.6,-20.6 Q 526.0,-2.8 524.0,15.1 L 517.2,77.6 Q 515.2,95.5 497.4,93.3 L 458.5,88.6 Q 440.6,86.4 428.4,73.2 L 424.5,69.0 Q 412.2,55.7 412.8,37.7 L 413.5,15.8 Q 414.0,-2.2 413.3,-20.2 L 412.3,-42.7 Q 411.6,-60.1 419.9,-75.4 Z" stroke-width="3.36" fill="none" />
<path d="M -432.7,72.9 Q -445.1,84.1 -461.7,86.6 L -503.5,93.0 Q -521.3,95.7 -522.4,77.7 L -525.9,20.7 Q -527.0,2.8 -526.4,-15.2 L -524.2,-81.9 Q -523.6,-99.9 -505.7,-97.6 L -443.0,-89.6 Q -425.1,-87.3 -423.4,-69.4 L -420.3,-37.7 Q -418.5,-19.7 -418.4,-1.7 L -417.9,42.7 Q -417.8,59.5 -430.2,70.7 Z" stroke-width="3.36" fill="none" />
<line x1="130.5" y1="-535.3" x2="122.2" y2="-501.3" stroke-width="2.91" />
<line x1="230.2" y1="-500.6" x2="221.5" y2="-481.5" stroke-width="2.91" />
<line x1="103.4" y1="-388.5" x2="105.9" y2="-398.1" stroke-width="2.91" />
<line x1="161.6" y1="-368.1" x2="169.2" y2="-385.5" stroke-width="2.91" />
<line x1="411.4" y1="-366.5" x2="395.0" y2="-351.9" stroke-width="2.91" />
<line x1="496.1" y1="-239.8" x2="475.4" y2="-229.8" stroke-width="2.91" />
<line x1="364.9" y1="-168.6" x2="385.8" y2="-178.3" stroke-width="2.91" />
<line x1="304.3" y1="-262.7" x2="311.1" y2="-268.6" stroke-width="2.91" />
<line x1="501.4" y1="228.5" x2="474.1" y2="216.1" stroke-width="2.91" />
<line x1="388.3" y1="391.0" x2="371.3" y2="373.9" stroke-width="2.91" />
<line x1="364.6" y1="169.3" x2="376.4" y2="174.7" stroke-width="2.91" />
<line x1="275.7" y1="292.6" x2="287.4" y2="304.9" stroke-width="2.91" />
<line x1="196.7" y1="350.6" x2="205.5" y2="366.3" stroke-width="2.91" />
<line x1="80.1" y1="393.9" x2="81.5" y2="400.8" stroke-width="2.91" />
<line x1="274.7" y1="477.7" x2="253.7" y2="441.3" stroke-width="2.91" />
<line x1="98.5" y1="542.1" x2="92.1" y2="506.7" stroke-width="2.91" />
<line x1="-74.6" y1="395.0" x2="-78.5" y2="415.6" stroke-width="2.91" />
<line x1="-193.0" y1="352.6" x2="-201.2" y2="367.5" stroke-width="2.91" />
<line x1="-92.8" y1="543.1" x2="-86.8" y2="507.6" stroke-width="2.91" />
<line x1="-256.1" y1="487.9" x2="-242.6" y2="462.2" stroke-width="2.91" />
<line x1="-279.3" y1="289.2" x2="-290.4" y2="300.7" stroke-width="2.91" />
<line x1="-363.4" y1="171.8" x2="-377.9" y2="178.6" stroke-width="2.91" />
<line x1="-379.3" y1="399.7" x2="-357.9" y2="377.2" stroke-width="2.91" />
<line x1="-505.3" y1="219.7" x2="-478.7" y2="208.1" stroke-width="2.91" />
<line x1="-363.7" y1="-171.2" x2="-382.7" y2="-180.1" stroke-width="2.91" />
<line x1="-300.1" y1="-267.4" x2="-311.3" y2="-277.4" stroke-width="2.91" />
<line x1="-499.4" y1="-232.9" x2="-475.8" y2="-221.9" stroke-width="2.91" />
<line x1="-404.9" y1="-373.7" x2="-385.1" y2="-355.4" stroke-width="2.91" />
<line x1="-168.6" y1="-364.9" x2="-179.1" y2="-387.6" stroke-width="2.91" />
<line x1="-104.7" y1="-388.1" x2="-107.6" y2="-398.7" stroke-width="2.91" />
<line x1="-235.5" y1="-498.1" x2="-223.9" y2="-473.7" stroke-width="2.91" />
<line x1="-131.4" y1="-535.1" x2="-122.4" y2="-498.2" stroke-width="2.91" />
<line x1="538.4" y1="-117.4" x2="510.0" y2="-111.2" stroke-width="2.91" />
<line x1="539.6" y1="111.7" x2="511.2" y2="105.9" stroke-width="2.91" />
<line x1="-538.4" y1="117.4" x2="-510.0" y2="111.2" stroke-width="2.91" />
<line x1="-539.6" y1="-111.7" x2="-511.2" y2="-105.9" stroke-width="2.91" />
<polygon points="-80.5,-578.0 -80.5,-926.0 80.5,-926.0 80.5,-578.0" stroke-width="0" fill="white" />
<line x1="-80.5" y1="-571.0" x2="-80.5" y2="-926.0" stroke-width="5.60" />
<line x1="80.5" y1="-571.0" x2="80.5" y2="-926.0" stroke-width="5.60" />
<line x1="-80.5" y1="-606.0" x2="80.5" y2="-606.0" stroke-width="3.36" />
<line x1="-80.5" y1="-914.0" x2="80.5" y2="-914.0" stroke-width="3.92" />
<line x1="76.5" y1="-914.0" x2="76.5" y2="-575.0" stroke-width="2.24" />
<polygon points="-73.5,-615.0 -73.5,-902.0 -45.5,-902.0 -45.5,-615.0" stroke-width="3.36" fill="none" />
<line x1="-65.8" y1="-615.0" x2="-65.8" y2="-902.0" stroke-width="2.46" />
<polygon points="47.3,-615.0 47.3,-902.0 73.4,-902.0 73.4,-615.0" stroke-width="3.36" fill="none" />
<line x1="67.4" y1="-615.0" x2="67.4" y2="-902.0" stroke-width="2.46" />
<path d="M -80.5,-926.0 L -86.5,-928.0 L -86.5,-952.0 Q 0.0,-963.0 86.5,-952.0 L 86.5,-928.0 L 80.5,-926.0" stroke-width="5.60" fill="white" />
<line x1="-80.5" y1="-928.0" x2="-80.5" y2="-954.0" stroke-width="2.80" />
<line x1="80.5" y1="-928.0" x2="80.5" y2="-954.0" stroke-width="2.80" />
<polygon points="79.8,578.0 79.8,926.0 -79.8,926.0 -79.8,578.0" stroke-width="0" fill="white" />
<line x1="79.8" y1="571.0" x2="79.8" y2="926.0" stroke-width="5.60" />
<line x1="-79.8" y1="571.0" x2="-79.8" y2="926.0" stroke-width="5.60" />
<line x1="79.8" y1="606.0" x2="-79.8" y2="606.0" stroke-width="3.36" />
<line x1="79.8" y1="914.0" x2="-79.8" y2="914.0" stroke-width="3.92" />
<line x1="-75.8" y1="914.0" x2="-75.8" y2="575.0" stroke-width="2.24" />
<polygon points="73.5,615.0 73.5,902.0 45.5,902.0 45.5,615.0" stroke-width="3.36" fill="none" />
<line x1="65.8" y1="615.0" x2="65.8" y2="902.0" stroke-width="2.46" />
<polygon points="-47.3,615.0 -47.3,902.0 -73.4,902.0 -73.4,615.0" stroke-width="3.36" fill="none" />
<line x1="-67.4" y1="615.0" x2="-67.4" y2="902.0" stroke-width="2.46" />
<path d="M 80.5,926.0 L 86.5,928.0 L 86.5,952.0 Q 0.0,963.0 -86.5,952.0 L -86.5,928.0 L -80.5,926.0" stroke-width="5.60" fill="white" />
<line x1="80.5" y1="928.0" x2="80.5" y2="954.0" stroke-width="2.80" />
<line x1="-80.5" y1="928.0" x2="-80.5" y2="954.0" stroke-width="2.80" />
<polygon points="314.8,-488.8 517.8,-760.3 577.8,-715.4 374.9,-443.9" stroke-width="0" fill="white" />
<line x1="331.0" y1="-510.4" x2="391.1" y2="-465.5" stroke-width="2.91" />
<line x1="313.6" y1="-487.2" x2="517.8" y2="-760.3" stroke-width="5.38" />
<line x1="373.7" y1="-442.3" x2="577.8" y2="-715.4" stroke-width="5.38" />
<line x1="517.8" y1="-760.3" x2="577.8" y2="-715.4" stroke-width="2.80" />
<path d="M 517.8,-760.3 C 528.9,-777.0 531.7,-787.4 530.5,-800.8 Q 532.9,-804.0 536.3,-800.2 Q 575.3,-774.7 610.8,-744.5 Q 615.4,-742.3 613.0,-739.1 C 599.8,-736.5 590.6,-730.9 577.8,-715.4" stroke-width="5.82" fill="white" />
<path d="M 522.3,-763.2 C 531.3,-770.2 527.7,-785.4 534.2,-795.5" stroke-width="2.58" fill="none" />
<path d="M 531.3,-756.4 C 540.8,-763.1 537.7,-777.9 545.7,-786.9" stroke-width="2.58" fill="none" />
<path d="M 540.3,-749.7 C 550.3,-756.0 547.7,-770.4 557.2,-778.3" stroke-width="2.58" fill="none" />
<path d="M 549.3,-743.0 C 559.9,-748.9 557.8,-762.9 568.7,-769.7" stroke-width="2.58" fill="none" />
<path d="M 558.4,-736.2 C 569.4,-741.7 567.8,-755.4 580.2,-761.1" stroke-width="2.58" fill="none" />
<path d="M 567.4,-729.5 C 578.9,-734.6 577.8,-747.9 591.7,-752.5" stroke-width="2.58" fill="none" />
<path d="M 576.4,-722.8 C 588.4,-727.5 587.8,-740.5 603.2,-743.9" stroke-width="2.58" fill="none" />
<polygon points="542.0,-208.8 859.8,-311.6 880.4,-247.9 562.7,-145.1" stroke-width="0" fill="white" />
<line x1="567.7" y1="-217.2" x2="588.3" y2="-153.4" stroke-width="2.91" />
<line x1="540.1" y1="-208.2" x2="859.8" y2="-311.6" stroke-width="5.38" />
<line x1="560.7" y1="-144.5" x2="880.4" y2="-247.9" stroke-width="5.38" />
<line x1="859.8" y1="-311.6" x2="880.4" y2="-247.9" stroke-width="2.80" />
<path d="M 859.8,-311.6 C 878.6,-318.7 886.8,-325.6 893.6,-337.2 Q 897.4,-338.5 898.0,-333.4 Q 913.9,-293.9 924.1,-252.5 Q 926.6,-248.1 922.8,-246.9 C 910.5,-252.3 899.8,-253.1 880.4,-247.9" stroke-width="5.82" fill="white" />
<path d="M 865.6,-310.0 C 877.1,-310.2 883.0,-324.4 894.4,-328.1" stroke-width="2.58" fill="none" />
<path d="M 868.7,-300.4 C 880.4,-300.1 886.5,-313.8 898.4,-315.9" stroke-width="2.58" fill="none" />
<path d="M 871.8,-290.8 C 883.6,-290.0 889.9,-303.1 902.3,-303.7" stroke-width="2.58" fill="none" />
<path d="M 874.9,-281.3 C 886.9,-279.9 893.3,-292.5 906.3,-291.4" stroke-width="2.58" fill="none" />
<path d="M 878.0,-271.7 C 890.2,-269.8 896.8,-281.9 910.2,-279.2" stroke-width="2.58" fill="none" />
<path d="M 881.1,-262.2 C 893.4,-259.7 900.2,-271.3 914.2,-267.0" stroke-width="2.58" fill="none" />
<path d="M 884.2,-252.6 C 896.7,-249.6 903.6,-260.6 918.1,-254.8" stroke-width="2.58" fill="none" />
<polygon points="561.9,146.2 884.7,246.5 866.0,306.6 543.2,206.3" stroke-width="0" fill="white" />
<line x1="587.7" y1="154.2" x2="569.0" y2="214.3" stroke-width="2.91" />
<line x1="560.0" y1="145.6" x2="884.7" y2="246.5" stroke-width="5.38" />
<line x1="541.3" y1="205.7" x2="866.0" y2="306.6" stroke-width="5.38" />
<line x1="884.7" y1="246.5" x2="866.0" y2="306.6" stroke-width="2.80" />
<path d="M 884.7,246.5 C 904.1,251.4 914.8,250.6 927.1,244.9 Q 930.9,246.1 928.5,250.6 Q 919.3,290.2 904.4,328.0 Q 903.9,333.0 900.1,331.9 C 893.2,320.3 884.8,313.5 866.0,306.6" stroke-width="5.82" fill="white" />
<path d="M 888.0,252.7 C 897.5,259.3 910.4,251.3 921.7,255.4" stroke-width="2.58" fill="none" />
<path d="M 885.2,261.7 C 894.5,268.8 907.3,261.3 918.1,266.9" stroke-width="2.58" fill="none" />
<path d="M 882.4,270.7 C 891.6,278.3 904.2,271.4 914.6,278.5" stroke-width="2.58" fill="none" />
<path d="M 879.6,279.7 C 888.6,287.9 901.1,281.4 911.0,290.0" stroke-width="2.58" fill="none" />
<path d="M 876.8,288.8 C 885.6,297.4 898.0,291.4 907.4,301.5" stroke-width="2.58" fill="none" />
<path d="M 874.0,297.8 C 882.7,306.9 894.9,301.4 903.8,313.1" stroke-width="2.58" fill="none" />
<path d="M 871.2,306.8 C 879.7,316.4 891.7,311.5 900.2,324.6" stroke-width="2.58" fill="none" />
<polygon points="372.7,446.1 569.9,716.9 518.2,754.5 321.0,483.8" stroke-width="0" fill="white" />
<line x1="388.6" y1="467.9" x2="336.9" y2="505.6" stroke-width="2.91" />
<line x1="371.5" y1="444.5" x2="569.9" y2="716.9" stroke-width="5.38" />
<line x1="319.8" y1="482.2" x2="518.2" y2="754.5" stroke-width="5.38" />
<line x1="569.9" y1="716.9" x2="518.2" y2="754.5" stroke-width="2.80" />
<path d="M 569.9,716.9 C 582.5,732.4 591.6,738.2 604.8,741.0 Q 607.2,744.2 602.5,746.3 Q 571.1,772.9 536.2,794.6 Q 532.8,798.4 530.4,795.1 C 531.8,781.7 529.2,771.3 518.2,754.5" stroke-width="5.82" fill="white" />
<path d="M 571.7,721.7 C 575.5,732.6 590.9,733.8 598.0,743.4" stroke-width="2.58" fill="none" />
<path d="M 564.0,727.4 C 567.4,738.5 582.3,740.0 588.1,750.6" stroke-width="2.58" fill="none" />
<path d="M 556.2,733.0 C 559.2,744.5 573.7,746.3 578.2,757.8" stroke-width="2.58" fill="none" />
<path d="M 548.5,738.7 C 551.0,750.5 565.0,752.6 568.3,765.1" stroke-width="2.58" fill="none" />
<path d="M 540.7,744.3 C 542.8,756.4 556.4,758.9 558.4,772.3" stroke-width="2.58" fill="none" />
<path d="M 532.9,750.0 C 534.6,762.4 547.8,765.2 548.5,779.5" stroke-width="2.58" fill="none" />
<path d="M 525.2,755.6 C 526.4,768.4 539.2,771.4 538.5,786.7" stroke-width="2.58" fill="none" />
<polygon points="-323.6,482.5 -523.1,745.4 -574.5,706.4 -375.1,443.5" stroke-width="0" fill="white" />
<line x1="-339.9" y1="504.0" x2="-391.4" y2="465.0" stroke-width="2.91" />
<line x1="-322.4" y1="480.9" x2="-523.1" y2="745.4" stroke-width="5.38" />
<line x1="-373.9" y1="441.9" x2="-574.5" y2="706.4" stroke-width="5.38" />
<line x1="-523.1" y1="745.4" x2="-574.5" y2="706.4" stroke-width="2.80" />
<path d="M -523.1,745.4 C -534.4,761.9 -537.2,772.3 -536.1,785.7 Q -538.5,788.9 -541.9,785.1 Q -576.6,762.5 -607.7,735.2 Q -612.3,733.0 -609.9,729.8 C -596.7,727.2 -587.4,721.7 -574.5,706.4" stroke-width="5.82" fill="white" />
<path d="M -528.7,747.4 C -538.0,754.2 -534.8,769.1 -542.2,778.6" stroke-width="2.58" fill="none" />
<path d="M -536.4,741.6 C -546.2,748.0 -543.4,762.6 -552.1,771.1" stroke-width="2.58" fill="none" />
<path d="M -544.1,735.7 C -554.3,741.8 -552.0,756.1 -561.9,763.6" stroke-width="2.58" fill="none" />
<path d="M -551.8,729.9 C -562.5,735.6 -560.5,749.6 -571.8,756.2" stroke-width="2.58" fill="none" />
<path d="M -559.5,724.0 C -570.6,729.4 -569.1,743.1 -581.6,748.7" stroke-width="2.58" fill="none" />
<path d="M -567.3,718.2 C -578.8,723.2 -577.7,736.6 -591.5,741.2" stroke-width="2.58" fill="none" />
<path d="M -575.0,712.3 C -586.9,717.1 -586.3,730.1 -601.4,733.7" stroke-width="2.58" fill="none" />
<polygon points="-542.9,208.0 -860.2,305.5 -880.8,238.6 -563.4,141.1" stroke-width="0" fill="white" />
<line x1="-568.7" y1="215.9" x2="-589.2" y2="149.0" stroke-width="2.91" />
<line x1="-540.9" y1="207.4" x2="-860.2" y2="305.5" stroke-width="5.38" />
<line x1="-561.5" y1="140.5" x2="-880.8" y2="238.6" stroke-width="5.38" />
<line x1="-860.2" y1="305.5" x2="-880.8" y2="238.6" stroke-width="2.80" />
<path d="M -860.2,305.5 C -879.0,312.3 -887.4,319.1 -894.3,330.6 Q -898.2,331.8 -898.7,326.7 Q -914.5,285.5 -924.5,242.6 Q -926.9,238.1 -923.1,236.9 C -910.9,242.6 -900.2,243.5 -880.8,238.6" stroke-width="5.82" fill="white" />
<path d="M -866.5,301.9 C -878.0,301.9 -884.2,316.0 -895.7,319.5" stroke-width="2.58" fill="none" />
<path d="M -869.6,291.9 C -881.3,291.3 -887.6,304.8 -899.6,306.6" stroke-width="2.58" fill="none" />
<path d="M -872.7,281.8 C -884.6,280.7 -891.0,293.7 -903.6,293.8" stroke-width="2.58" fill="none" />
<path d="M -875.8,271.8 C -887.8,270.1 -894.5,282.5 -907.5,281.0" stroke-width="2.58" fill="none" />
<path d="M -878.9,261.7 C -891.1,259.5 -897.9,271.4 -911.4,268.2" stroke-width="2.58" fill="none" />
<path d="M -882.0,251.7 C -894.3,249.0 -901.3,260.2 -915.4,255.4" stroke-width="2.58" fill="none" />
<path d="M -885.1,241.7 C -897.6,238.4 -904.7,249.1 -919.3,242.5" stroke-width="2.58" fill="none" />
<polygon points="-561.0,-149.4 -872.0,-247.4 -851.9,-311.1 -541.0,-213.1" stroke-width="0" fill="white" />
<line x1="-586.8" y1="-157.5" x2="-566.7" y2="-221.2" stroke-width="2.91" />
<line x1="-559.1" y1="-148.8" x2="-872.0" y2="-247.4" stroke-width="5.38" />
<line x1="-539.1" y1="-212.5" x2="-851.9" y2="-311.1" stroke-width="5.38" />
<line x1="-872.0" y1="-247.4" x2="-851.9" y2="-311.1" stroke-width="2.80" />
<path d="M -872.0,-247.4 C -891.3,-252.5 -902.1,-251.7 -914.3,-246.1 Q -918.1,-247.3 -915.7,-251.8 Q -905.8,-293.1 -890.2,-332.6 Q -889.6,-337.7 -885.8,-336.5 C -879.0,-324.9 -870.6,-318.1 -851.9,-311.1" stroke-width="5.82" fill="white" />
<path d="M -876.3,-250.4 C -885.8,-256.8 -898.9,-248.5 -910.4,-251.9" stroke-width="2.58" fill="none" />
<path d="M -873.3,-259.9 C -882.6,-266.9 -895.5,-259.2 -906.6,-264.1" stroke-width="2.58" fill="none" />
<path d="M -870.2,-269.5 C -879.4,-276.9 -892.2,-269.8 -902.7,-276.3" stroke-width="2.58" fill="none" />
<path d="M -867.2,-279.0 C -876.2,-287.0 -888.8,-280.4 -898.9,-288.5" stroke-width="2.58" fill="none" />
<path d="M -864.2,-288.6 C -873.1,-297.1 -885.5,-291.0 -895.0,-300.7" stroke-width="2.58" fill="none" />
<path d="M -861.2,-298.2 C -869.9,-307.2 -882.1,-301.6 -891.2,-312.9" stroke-width="2.58" fill="none" />
<path d="M -858.2,-307.7 C -866.7,-317.3 -878.8,-312.3 -887.3,-325.1" stroke-width="2.58" fill="none" />
<polygon points="-382.6,-438.7 -580.2,-707.9 -519.0,-752.9 -321.3,-483.6" stroke-width="0" fill="white" />
<line x1="-398.6" y1="-460.4" x2="-337.3" y2="-505.4" stroke-width="2.91" />
<line x1="-381.4" y1="-437.0" x2="-580.2" y2="-707.9" stroke-width="5.38" />
<line x1="-320.1" y1="-482.0" x2="-519.0" y2="-752.9" stroke-width="5.38" />
<line x1="-580.2" y1="-707.9" x2="-519.0" y2="-752.9" stroke-width="2.80" />
<path d="M -580.2,-707.9 C -592.9,-723.4 -602.0,-729.1 -615.2,-731.9 Q -617.5,-735.1 -612.9,-737.2 Q -576.8,-767.5 -537.1,-792.9 Q -533.7,-796.6 -531.3,-793.4 C -532.7,-780.0 -530.0,-769.6 -519.0,-752.9" stroke-width="5.82" fill="white" />
<path d="M -580.1,-714.2 C -584.1,-724.9 -599.6,-725.9 -607.3,-735.2" stroke-width="2.58" fill="none" />
<path d="M -570.9,-720.9 C -574.4,-732.0 -589.4,-733.4 -595.6,-743.8" stroke-width="2.58" fill="none" />
<path d="M -561.7,-727.7 C -564.7,-739.1 -579.2,-740.9 -583.8,-752.4" stroke-width="2.58" fill="none" />
<path d="M -552.5,-734.4 C -555.0,-746.2 -569.0,-748.4 -572.1,-761.0" stroke-width="2.58" fill="none" />
<path d="M -543.4,-741.2 C -545.3,-753.4 -558.8,-755.9 -560.3,-769.6" stroke-width="2.58" fill="none" />
<path d="M -534.2,-747.9 C -535.6,-760.5 -548.6,-763.4 -548.6,-778.3" stroke-width="2.58" fill="none" />
<path d="M -525.0,-754.7 C -525.9,-767.6 -538.4,-770.9 -536.8,-786.9" stroke-width="2.58" fill="none" />
<path d="M 263.0,-466.9 C 266.5,-468.0 269.6,-465.4 271.5,-463.5 C 273.4,-461.5 279.3,-451.0 281.8,-447.5 C 284.4,-444.0 293.0,-432.1 297.3,-428.8 C 301.6,-425.5 319.2,-416.5 324.7,-414.6 C 330.2,-412.7 348.6,-411.1 352.0,-409.9 C 355.5,-408.8 359.0,-405.2 359.6,-403.5 C 360.2,-401.8 358.8,-397.2 358.3,-393.2 C 357.7,-389.3 357.3,-369.5 354.0,-364.2 C 350.7,-358.9 330.7,-344.1 325.1,-340.1 C 319.5,-336.2 301.6,-325.3 297.9,-324.6 C 294.1,-323.9 289.6,-330.6 287.6,-333.1 C 285.5,-335.7 280.3,-346.8 277.2,-350.1 C 274.1,-353.5 260.8,-363.8 256.6,-366.4 C 252.5,-369.1 240.2,-374.9 236.1,-376.5 C 232.0,-378.2 218.5,-381.6 215.6,-383.3 C 212.7,-385.0 207.6,-390.2 207.0,-393.5 C 206.4,-396.8 208.4,-412.2 209.3,-416.4 C 210.1,-420.5 212.7,-431.6 215.3,-435.2 C 217.9,-438.8 230.9,-449.2 235.7,-452.4 C 240.5,-455.5 259.4,-465.7 263.0,-466.9 Z" stroke-width="3.36" fill="white" />
<circle cx="257.9" cy="-449.1" r="5.2" stroke-width="2.91" fill="none"/>
<circle cx="228.3" cy="-430.1" r="5.2" stroke-width="2.91" fill="none"/>
<circle cx="218.9" cy="-393.5" r="5.2" stroke-width="2.91" fill="none"/>
<circle cx="350.4" cy="-394.2" r="5.2" stroke-width="2.91" fill="none"/>
<circle cx="308.7" cy="-333.2" r="5.2" stroke-width="2.91" fill="none"/>
<circle cx="325.7" cy="-345.3" r="5.2" stroke-width="2.91" fill="none"/>
<circle cx="342.1" cy="-358.0" r="5.2" stroke-width="2.91" fill="none"/>
<circle cx="275.3" cy="-391.8" r="24.0" stroke-width="5.04" fill="none"/>
<path d="M -263.0,-466.9 C -266.5,-468.0 -269.6,-465.4 -271.5,-463.5 C -273.4,-461.5 -279.3,-451.0 -281.8,-447.5 C -284.4,-444.0 -293.0,-432.1 -297.3,-428.8 C -301.6,-425.5 -319.2,-416.5 -324.7,-414.6 C -330.2,-412.7 -348.6,-411.1 -352.0,-409.9 C -355.5,-408.8 -359.0,-405.2 -359.6,-403.5 C -360.2,-401.8 -358.8,-397.2 -358.3,-393.2 C -357.7,-389.3 -357.3,-369.5 -354.0,-364.2 C -350.7,-358.9 -330.7,-344.1 -325.1,-340.1 C -319.5,-336.2 -301.6,-325.3 -297.9,-324.6 C -294.1,-323.9 -289.6,-330.6 -287.6,-333.1 C -285.5,-335.7 -280.3,-346.8 -277.2,-350.1 C -274.1,-353.5 -260.8,-363.8 -256.6,-366.4 C -252.5,-369.1 -240.2,-374.9 -236.1,-376.5 C -232.0,-378.2 -218.5,-381.6 -215.6,-383.3 C -212.7,-385.0 -207.6,-390.2 -207.0,-393.5 C -206.4,-396.8 -208.4,-412.2 -209.3,-416.4 C -210.1,-420.5 -212.7,-431.6 -215.3,-435.2 C -217.9,-438.8 -230.9,-449.2 -235.7,-452.4 C -240.5,-455.5 -259.4,-465.7 -263.0,-466.9 Z" stroke-width="3.36" fill="white" />
<circle cx="-257.9" cy="-449.1" r="5.2" stroke-width="2.91" fill="none"/>
<circle cx="-228.3" cy="-430.1" r="5.2" stroke-width="2.91" fill="none"/>
<circle cx="-218.9" cy="-393.5" r="5.2" stroke-width="2.91" fill="none"/>
<circle cx="-350.4" cy="-394.2" r="5.2" stroke-width="2.91" fill="none"/>
<circle cx="-308.7" cy="-333.2" r="5.2" stroke-width="2.91" fill="none"/>
<circle cx="-325.7" cy="-345.3" r="5.2" stroke-width="2.91" fill="none"/>
<circle cx="-342.1" cy="-358.0" r="5.2" stroke-width="2.91" fill="none"/>
<circle cx="-275.3" cy="-391.8" r="24.0" stroke-width="5.04" fill="none"/>
<path d="M 271.5,-462.1 C 273.5,-458.8 278.1,-448.8 283.6,-442.4 C 289.0,-436.0 296.2,-428.8 304.2,-423.7 C 312.2,-418.6 323.0,-414.7 331.5,-411.9 C 340.1,-409.1 351.5,-407.7 355.5,-406.9 " stroke-width="2.46" fill="none" />
<path d="M -271.5,-462.1 C -273.5,-458.8 -278.1,-448.8 -283.6,-442.4 C -289.0,-436.0 -296.2,-428.8 -304.2,-423.7 C -312.2,-418.6 -323.0,-414.7 -331.5,-411.9 C -340.1,-409.1 -351.5,-407.7 -355.5,-406.9 " stroke-width="2.46" fill="none" />
<path d="M 364.3,-357.2 C 369.5,-359.2 386.8,-354.2 390.0,-352.2 C 393.2,-350.3 395.1,-346.7 391.7,-340.3 C 388.4,-333.9 366.0,-302.6 361.2,-297.4 C 356.5,-292.2 353.8,-292.9 351.0,-295.7 C 348.2,-298.5 337.8,-316.6 337.2,-321.2 C 336.6,-325.8 342.5,-330.7 345.7,-334.9 C 348.8,-339.1 359.2,-355.2 364.3,-357.2 Z" stroke-width="3.36" fill="white" />
<circle cx="359.4" cy="-328.2" r="12.8" stroke-width="3.36" fill="none"/>
<circle cx="382.3" cy="-341.9" r="3.8" stroke-width="2.69" fill="none"/>
<circle cx="355.6" cy="-305.9" r="3.8" stroke-width="2.69" fill="none"/>
<path d="M 454.0,-185.2 C 456.8,-185.9 459.5,-185.2 460.9,-183.6 C 462.3,-182.0 464.0,-175.2 466.0,-171.6 C 468.0,-168.1 476.7,-157.1 478.1,-152.9 C 479.5,-148.7 478.8,-139.6 478.2,-135.9 C 477.6,-132.1 477.1,-121.9 473.1,-120.5 C 469.2,-119.0 450.9,-122.2 444.1,-123.7 C 437.3,-125.3 419.0,-131.8 415.0,-133.8 C 411.0,-135.8 409.5,-137.0 409.9,-140.6 C 410.2,-144.2 415.1,-160.2 418.3,-164.6 C 421.4,-169.0 432.8,-175.9 437.0,-178.3 C 441.1,-180.7 451.2,-184.6 454.0,-185.2 Z" stroke-width="3.36" fill="white" />
<circle cx="445.7" cy="-145.9" r="16.0" stroke-width="3.36" fill="none"/>
<circle cx="454.1" cy="-175.8" r="4.2" stroke-width="2.69" fill="none"/>
<circle cx="468.0" cy="-127.3" r="4.2" stroke-width="2.69" fill="none"/>
<circle cx="420.1" cy="-137.3" r="4.2" stroke-width="2.69" fill="none"/>
<path d="M 454.0,185.2 C 456.8,185.9 459.5,185.2 460.9,183.6 C 462.3,182.0 464.0,175.2 466.0,171.6 C 468.0,168.1 476.7,157.1 478.1,152.9 C 479.5,148.7 478.8,139.6 478.2,135.9 C 477.6,132.1 477.1,121.9 473.1,120.5 C 469.2,119.0 450.9,122.2 444.1,123.7 C 437.3,125.3 419.0,131.8 415.0,133.8 C 411.0,135.8 409.5,137.0 409.9,140.6 C 410.2,144.2 415.1,160.2 418.3,164.6 C 421.4,169.0 432.8,175.9 437.0,178.3 C 441.1,180.7 451.2,184.6 454.0,185.2 Z" stroke-width="3.36" fill="white" />
<circle cx="445.7" cy="145.9" r="16.0" stroke-width="3.36" fill="none"/>
<circle cx="454.1" cy="175.8" r="4.2" stroke-width="2.69" fill="none"/>
<circle cx="468.0" cy="127.3" r="4.2" stroke-width="2.69" fill="none"/>
<circle cx="420.1" cy="137.3" r="4.2" stroke-width="2.69" fill="none"/>
<path d="M -331.3,307.7 C -324.7,305.9 -311.8,328.5 -312.4,336.6 C -312.9,344.8 -330.5,374.1 -336.0,377.8 C -341.6,381.4 -356.2,370.6 -360.0,367.6 C -363.8,364.7 -372.0,359.3 -368.6,352.3 C -365.3,345.3 -337.9,309.5 -331.3,307.7 Z" stroke-width="3.36" fill="white" />
<circle cx="-338.6" cy="341.9" r="12.0" stroke-width="3.36" fill="none"/>
<circle cx="-333.0" cy="316.3" r="3.8" stroke-width="2.69" fill="none"/>
<circle cx="-358.4" cy="352.3" r="3.8" stroke-width="2.69" fill="none"/>
<path d="M -237.1,368.7 C -232.7,365.9 -222.2,370.4 -220.0,372.0 C -217.8,373.6 -215.8,377.5 -218.2,382.3 C -220.6,387.1 -236.1,409.9 -240.2,413.1 C -244.4,416.3 -251.9,411.8 -253.9,409.8 C -255.9,407.8 -259.4,400.9 -257.4,396.1 C -255.4,391.3 -241.4,371.5 -237.1,368.7 Z" stroke-width="3.36" fill="white" />
<circle cx="-227.4" cy="382.3" r="3.5" stroke-width="2.69" fill="none"/>
<circle cx="-243.7" cy="403.9" r="3.5" stroke-width="2.69" fill="none"/>
</g>
<g stroke="#000" fill="none" stroke-linecap="round" stroke-linejoin="round">
<path d="M 1327.5,941.6 C 1318.5,944.0 1316.9,950.7 1311.6,953.6 C 1306.2,956.4 1295.2,957.9 1291.6,960.6 C 1288.0,963.2 1287.4,967.8 1287.6,971.5 C 1287.9,975.2 1291.2,982.2 1293.6,985.5 C 1296.0,988.7 1302.7,991.0 1303.6,993.4 C 1304.5,995.8 1302.0,998.4 1299.6,1001.4 C 1297.2,1004.4 1289.6,1009.8 1287.6,1013.3 C 1285.7,1016.9 1285.8,1022.0 1286.7,1025.3 C 1287.5,1028.6 1290.5,1032.9 1293.6,1035.3 C 1296.8,1037.6 1304.6,1039.1 1307.6,1041.2 C 1310.6,1043.3 1312.4,1045.6 1313.5,1049.2 C 1314.7,1052.8 1314.0,1061.9 1315.5,1065.1 C 1317.0,1068.4 1319.9,1069.9 1323.5,1071.1 C 1327.1,1072.3 1335.7,1072.2 1339.4,1073.1 C 1343.2,1074.0 1343.9,1076.3 1348.4,1077.1 C 1352.9,1077.9 1362.9,1078.7 1369.3,1078.7 C 1375.7,1078.7 1386.5,1077.9 1391.2,1077.1 C 1396.0,1076.3 1397.0,1074.0 1401.2,1073.1 C 1405.4,1072.2 1415.4,1072.6 1419.1,1071.1 C 1422.9,1069.6 1424.9,1066.4 1426.1,1063.1 C 1427.3,1059.9 1426.0,1052.5 1427.1,1049.2 C 1428.1,1045.9 1429.8,1043.3 1433.1,1041.2 C 1436.4,1039.1 1445.9,1037.9 1449.0,1035.3 C 1452.1,1032.6 1454.0,1027.2 1454.0,1023.3 C 1454.0,1019.4 1451.5,1012.9 1449.0,1009.4 C 1446.5,1005.8 1438.2,1002.4 1437.1,999.4 C 1435.9,996.4 1438.9,992.1 1441.0,989.4 C 1443.1,986.8 1449.4,984.5 1451.0,981.5 C 1452.6,978.5 1452.9,973.0 1452.0,969.5 C 1451.1,966.1 1448.8,961.3 1445.0,958.6 C 1441.3,955.9 1431.9,954.1 1427.1,951.6 C 1422.3,949.1 1421.5,943.7 1413.1,941.6 C 1404.8,939.5 1384.2,937.6 1371.3,937.6 C 1358.5,937.6 1336.5,939.2 1327.5,941.6 Z" stroke-width="3.36" fill="white" />
<circle cx="1301.6" cy="973.5" r="6.0" stroke-width="3.14" fill="none"/>
<circle cx="1301.6" cy="1023.3" r="6.0" stroke-width="3.14" fill="none"/>
<circle cx="1329.1" cy="1058.2" r="6.0" stroke-width="3.14" fill="none"/>
<circle cx="1412.2" cy="1058.2" r="6.0" stroke-width="3.14" fill="none"/>
<circle cx="1438.0" cy="1023.3" r="6.0" stroke-width="3.14" fill="none"/>
<circle cx="1438.0" cy="972.5" r="6.0" stroke-width="3.14" fill="none"/>
<ellipse cx="1369.3" cy="1001.4" rx="63.0" ry="58.0" stroke-width="6.16" fill="none" transform="rotate(0 1369.3 1001.4)"/>
<ellipse cx="1369.3" cy="999.4" rx="58.0" ry="53.0" stroke-width="2.24" fill="none" transform="rotate(0 1369.3 999.4)"/>
<ellipse cx="1370.3" cy="966.5" rx="28.0" ry="24.0" stroke-width="4.48" fill="none" transform="rotate(0 1370.3 966.5)"/>
<ellipse cx="1370.3" cy="969.5" rx="33.0" ry="30.0" stroke-width="2.46" fill="none" transform="rotate(0 1370.3 969.5)"/>
<ellipse cx="1371.3" cy="1015.3" rx="12.0" ry="4.5" stroke-width="2.24" fill="#000" transform="rotate(0 1371.3 1015.3)"/>
<path d="M 1327.5,1021.3 C 1330.1,1018.7 1336.1,1009.2 1343.4,1005.4 C 1350.7,1001.6 1362.4,998.1 1371.3,998.4 C 1380.3,998.7 1389.7,1003.6 1397.2,1007.4 C 1404.7,1011.2 1413.0,1019.0 1416.1,1021.3 " stroke-width="2.91" fill="none" />
<line x1="1319.5" y1="965.5" x2="1325.5" y2="1023.3" stroke-width="2.91" />
<line x1="1416.1" y1="961.6" x2="1417.1" y2="1021.3" stroke-width="2.91" />
<path d="M 1241.2,928.2 C 1241.2,926.5 1297.8,917.2 1312.9,915.5 C 1327.9,913.8 1357.0,913.9 1370.2,913.9 C 1383.4,913.9 1411.1,913.8 1426.0,915.5 C 1440.9,917.2 1497.7,926.5 1497.7,928.2 C 1497.7,930.0 1440.9,930.2 1426.0,930.6 C 1411.1,931.0 1383.4,931.8 1370.2,931.8 C 1357.0,931.8 1327.9,931.0 1312.9,930.6 C 1297.8,930.2 1241.2,930.0 1241.2,928.2 Z" stroke-width="2.91" fill="white" />
<circle cx="1315.3" cy="925.9" r="5.6" stroke-width="3.14" fill="none"/>
<circle cx="1353.5" cy="922.7" r="5.6" stroke-width="3.14" fill="none"/>
<circle cx="1395.7" cy="923.5" r="5.6" stroke-width="3.14" fill="none"/>
<circle cx="1434.8" cy="925.9" r="5.6" stroke-width="3.14" fill="none"/>
<polygon points="1312.9,916.3 1426.0,916.3 1426.0,930.6 1312.9,930.6" stroke-width="2.69" fill="none" />
<circle cx="1364.0" cy="1954.7" r="66.0" stroke-width="3.14" fill="white"/>
<path d="M 1320.0,1944.7 A 45 45 0 1 1 1349.0,1997.7" stroke-width="2.91" fill="none" />
<circle cx="1326.4" cy="1916.0" r="5.0" stroke-width="2.91" fill="none"/>
<circle cx="1402.7" cy="1916.0" r="5.0" stroke-width="2.91" fill="none"/>
<circle cx="1326.4" cy="1988.9" r="5.0" stroke-width="2.91" fill="none"/>
<circle cx="1402.7" cy="1988.9" r="5.0" stroke-width="2.91" fill="none"/>
<circle cx="1384.5" cy="1905.8" r="5.0" stroke-width="2.91" fill="none"/>
<circle cx="1384.5" cy="2000.3" r="5.0" stroke-width="2.91" fill="none"/>
<path d="M 1339.0,1922.9 C 1347.9,1919.8 1379.9,1917.5 1389.0,1922.9 C 1398.2,1928.2 1393.6,1949.0 1393.6,1954.7 C 1393.6,1960.4 1398.2,1957.0 1389.0,1957.0 C 1379.9,1957.0 1347.9,1957.4 1339.0,1954.7 C 1330.0,1952.1 1335.5,1946.4 1335.5,1941.1 C 1335.5,1935.8 1330.0,1925.9 1339.0,1922.9 Z" stroke-width="2.91" fill="none" />
<line x1="1341.2" y1="1938.8" x2="1391.3" y2="1936.5" stroke-width="2.91" />
<line x1="1339.0" y1="1950.2" x2="1393.6" y2="1947.9" stroke-width="2.91" />
<path d="M 1232.0,2027.6 C 1232.0,2024.9 1294.0,2021.8 1309.4,2020.7 C 1324.8,2019.7 1351.3,2018.6 1364.0,2018.5 C 1376.8,2018.3 1403.0,2018.5 1418.6,2019.6 C 1434.3,2020.7 1498.3,2024.8 1498.3,2027.6 C 1498.3,2030.4 1434.3,2041.4 1418.6,2043.5 C 1403.0,2045.6 1376.8,2045.8 1364.0,2045.8 C 1351.3,2045.8 1324.8,2045.6 1309.4,2043.5 C 1294.0,2041.4 1232.0,2030.2 1232.0,2027.6 Z" stroke-width="2.91" fill="white" />
<circle cx="1304.8" cy="2034.4" r="5.0" stroke-width="3.14" fill="none"/>
<circle cx="1343.5" cy="2037.8" r="5.0" stroke-width="3.14" fill="none"/>
<circle cx="1382.2" cy="2039.0" r="5.0" stroke-width="3.14" fill="none"/>
<circle cx="1420.9" cy="2035.5" r="5.0" stroke-width="3.14" fill="none"/>
<polygon points="1339.0,2032.1 1387.9,2032.1 1387.9,2045.8 1339.0,2045.8" stroke-width="2.69" fill="none" />
<circle cx="882.6" cy="1320.5" r="33.0" stroke-width="3.36" fill="white"/>
<circle cx="882.6" cy="1320.5" r="9.6" stroke-width="3.36" fill="none"/>
<circle cx="866.0" cy="1317.0" r="3.0" stroke-width="2.80" fill="#000"/>
<circle cx="899.0" cy="1325.0" r="3.5" stroke-width="2.80" fill="#000"/>
<polyline points="1758.1,1393.1 1822.9,1380.2 1877.6,1369.1 1901.5,1361.5" stroke-width="5.04" fill="none" />
<polyline points="1759.8,1398.2 1805.9,1390.5 1809.3,1395.6 1845.1,1383.7 1877.6,1371.7" stroke-width="2.91" fill="none" />
<circle cx="1822.9" cy="1380.2" r="8.0" stroke-width="2.24" fill="#000"/>
<circle cx="1889.5" cy="1366.6" r="8.0" stroke-width="2.24" fill="#000"/>
<circle cx="1840.9" cy="1376.8" r="4.0" stroke-width="2.46" fill="none"/>
<polyline points="1797.3,1569.8 1819.5,1576.6 1892.9,1598.8" stroke-width="2.91" fill="none" />
<polyline points="1805.9,1566.3 1811.0,1590.3 1887.8,1607.3" stroke-width="2.69" fill="none" />
<circle cx="1819.5" cy="1581.7" r="7.5" stroke-width="2.24" fill="#000"/>
<circle cx="1886.1" cy="1588.5" r="7.0" stroke-width="2.69" fill="none"/>
<circle cx="1886.1" cy="1588.5" r="3.5" stroke-width="2.24" fill="none"/>
<circle cx="1840.0" cy="1586.8" r="4.0" stroke-width="2.46" fill="none"/>
<polyline points="832.2,1346.1 910.7,1364.9 967.1,1387.1" stroke-width="3.14" fill="none" />
<polyline points="842.4,1375.1 851.0,1364.9 876.6,1368.3 886.8,1380.2 910.7,1388.8 941.5,1392.2" stroke-width="2.91" fill="none" />
<circle cx="839.0" cy="1359.8" r="7.5" stroke-width="2.24" fill="#000"/>
<circle cx="905.6" cy="1375.1" r="7.0" stroke-width="2.69" fill="none"/>
<circle cx="905.6" cy="1375.1" r="3.5" stroke-width="2.24" fill="none"/>
<circle cx="888.5" cy="1371.7" r="4.0" stroke-width="2.46" fill="none"/>
<polyline points="831.2,1603.7 923.4,1584.4" stroke-width="2.91" fill="none" />
<path d="M 829.5,1597.1 C 831.5,1594.0 841.9,1575.9 844.8,1574.0 C 847.8,1572.1 848.9,1581.3 851.7,1582.7 C 854.4,1584.1 861.7,1585.1 865.3,1584.4 C 869.0,1583.8 876.2,1579.4 879.0,1577.6 C 881.7,1575.8 880.3,1572.7 885.8,1570.8 C 891.3,1568.8 914.7,1562.6 920.0,1562.9 C 925.2,1563.3 924.6,1570.3 925.1,1573.2 C 925.5,1576.0 923.6,1582.9 923.4,1584.4 " stroke-width="2.91" fill="none" />
<circle cx="837.3" cy="1588.5" r="7.0" stroke-width="2.69" fill="none"/>
<circle cx="837.3" cy="1588.5" r="3.5" stroke-width="2.24" fill="none"/>
<circle cx="905.6" cy="1573.2" r="7.0" stroke-width="2.69" fill="none"/>
<circle cx="905.6" cy="1573.2" r="3.5" stroke-width="2.24" fill="none"/>
<circle cx="886.0" cy="1580.0" r="4.0" stroke-width="2.46" fill="none"/>
<line x1="1792.2" y1="1008.2" x2="1655.0" y2="1188.0" stroke-width="3.36" />
<line x1="1792.2" y1="1008.2" x2="1774.0" y2="1032.0" stroke-width="6.72" />
<line x1="1670.7" y1="1165.4" x2="1653.7" y2="1187.6" stroke-width="6.72" />
<line x1="1841.7" y1="1056.0" x2="1825.7" y2="1044.0" stroke-width="3.81" /><polygon points="1790.5,1017.6 1830.8,1037.2 1820.6,1050.8" stroke-width="1" fill="#000" />
<line x1="1719.4" y1="1220.9" x2="1705.2" y2="1210.4" stroke-width="3.81" /><polygon points="1669.9,1184.1 1710.3,1203.5 1700.1,1217.2" stroke-width="1" fill="#000" />
<line x1="1922.6" y1="1265.0" x2="1986.6" y2="1249.4" stroke-width="5.60" />
<line x1="1998.0" y1="1282.0" x2="2017.9" y2="1279.3" stroke-width="5.60" />
<line x1="1989.4" y1="1213.8" x2="1994.4" y2="1233.7" stroke-width="3.81" /><polygon points="2005.1,1276.4 1986.2,1235.8 2002.6,1231.7" stroke-width="1" fill="#000" />
<line x1="1483.0" y1="1444.7" x2="2018.0" y2="1279.3" stroke-width="2.91" />
<line x1="1483.0" y1="1444.7" x2="1529.1" y2="1434.4" stroke-width="6.16" />
<line x1="1468.9" y1="1373.0" x2="1476.4" y2="1397.5" stroke-width="3.81" /><polygon points="1489.4,1439.5 1468.3,1400.0 1484.6,1394.9" stroke-width="1" fill="#000" />
<line x1="1850.0" y1="1357.5" x2="2022.2" y2="1339.0" stroke-width="3.14" />
<line x1="1998.0" y1="1341.9" x2="2022.2" y2="1339.0" stroke-width="5.60" />
<line x1="2026.4" y1="1398.8" x2="2023.4" y2="1387.3" stroke-width="3.81" /><polygon points="2012.2,1344.7 2031.6,1385.1 2015.1,1389.4" stroke-width="1" fill="#000" />
<line x1="1758.0" y1="1395.6" x2="1809.3" y2="1388.8" stroke-width="5.60" />
<line x1="1792.2" y1="1457.1" x2="1786.3" y2="1437.7" stroke-width="3.81" /><polygon points="1773.4,1395.6 1794.4,1435.2 1778.1,1440.2" stroke-width="1" fill="#000" />
<line x1="1850.0" y1="1519.3" x2="1783.4" y2="1719.0" stroke-width="3.92" />
<line x1="1852.0" y1="1520.3" x2="1843.0" y2="1548.0" stroke-width="6.72" />
<line x1="1792.0" y1="1690.0" x2="1783.4" y2="1719.0" stroke-width="6.72" />
<line x1="1776.8" y1="1510.9" x2="1800.0" y2="1516.9" stroke-width="3.81" /><polygon points="1842.6,1528.0 1797.9,1525.2 1802.2,1508.7" stroke-width="1" fill="#000" />
<line x1="1720.2" y1="1688.3" x2="1741.2" y2="1694.6" stroke-width="3.81" /><polygon points="1783.4,1707.1 1738.8,1702.7 1743.6,1686.4" stroke-width="1" fill="#000" />
<line x1="1450.4" y1="1775.4" x2="1350.3" y2="1986.6" stroke-width="3.58" />
<line x1="1450.4" y1="1775.4" x2="1440.0" y2="1798.0" stroke-width="6.72" />
<line x1="1358.0" y1="1968.0" x2="1350.3" y2="1986.6" stroke-width="6.72" />
<line x1="1387.2" y1="1753.2" x2="1409.2" y2="1761.5" stroke-width="3.81" /><polygon points="1450.4,1777.1 1406.2,1769.5 1412.3,1753.6" stroke-width="1" fill="#000" />
<line x1="1298.0" y1="1945.6" x2="1311.6" y2="1953.0" stroke-width="3.81" /><polygon points="1350.3,1974.0 1307.6,1960.5 1315.7,1945.5" stroke-width="1" fill="#000" />
<line x1="738.0" y1="1339.0" x2="968.8" y2="1387.0" stroke-width="3.14" />
<line x1="738.0" y1="1339.0" x2="760.0" y2="1343.0" stroke-width="5.60" />
<line x1="939.8" y1="1385.4" x2="968.8" y2="1387.0" stroke-width="5.60" />
<line x1="941.5" y1="1453.7" x2="945.8" y2="1433.5" stroke-width="3.81" /><polygon points="955.1,1390.5 954.2,1435.3 937.5,1431.7" stroke-width="1" fill="#000" />
<line x1="728.0" y1="1410.0" x2="731.3" y2="1388.5" stroke-width="3.81" /><polygon points="738.0,1345.0 739.7,1389.8 722.9,1387.2" stroke-width="1" fill="#000" />
<line x1="726.0" y1="1479.4" x2="864.0" y2="1479.8" stroke-width="3.14" stroke-linecap="butt"/>
<line x1="872.0" y1="1479.9" x2="880.0" y2="1479.9" stroke-width="3.14" stroke-linecap="butt"/>
<line x1="888.0" y1="1479.9" x2="1086.0" y2="1480.5" stroke-width="3.14" stroke-linecap="butt"/>
<line x1="1094.0" y1="1480.5" x2="1102.0" y2="1480.6" stroke-width="3.14" stroke-linecap="butt"/>
<line x1="1110.0" y1="1480.6" x2="1600.0" y2="1482.1" stroke-width="3.14" stroke-linecap="butt"/>
<line x1="1608.0" y1="1482.1" x2="1616.0" y2="1482.2" stroke-width="3.14" stroke-linecap="butt"/>
<line x1="1624.0" y1="1482.2" x2="2019.0" y2="1483.4" stroke-width="3.14" stroke-linecap="butt"/>
<line x1="1373.1" y1="496.4" x2="1371.7" y2="704.0" stroke-width="3.14" stroke-linecap="butt"/>
<line x1="1371.6" y1="712.0" x2="1371.6" y2="720.0" stroke-width="3.14" stroke-linecap="butt"/>
<line x1="1371.5" y1="728.0" x2="1370.9" y2="819.0" stroke-width="3.14" stroke-linecap="butt"/>
<line x1="1370.8" y1="827.0" x2="1370.8" y2="835.0" stroke-width="3.14" stroke-linecap="butt"/>
<line x1="1370.7" y1="843.0" x2="1368.7" y2="1148.0" stroke-width="3.14" stroke-linecap="butt"/>
<line x1="1368.6" y1="1156.0" x2="1368.5" y2="1164.0" stroke-width="3.14" stroke-linecap="butt"/>
<line x1="1368.5" y1="1172.0" x2="1365.8" y2="1562.0" stroke-width="3.14" stroke-linecap="butt"/>
<line x1="1365.8" y1="1570.0" x2="1365.7" y2="1578.0" stroke-width="3.14" stroke-linecap="butt"/>
<line x1="1365.7" y1="1586.0" x2="1361.3" y2="2223.0" stroke-width="3.14" stroke-linecap="butt"/>
<line x1="1361.3" y1="2231.0" x2="1361.2" y2="2239.0" stroke-width="3.14" stroke-linecap="butt"/>
<line x1="1361.2" y1="2247.0" x2="1360.5" y2="2348.0" stroke-width="3.14" stroke-linecap="butt"/>
<line x1="1360.4" y1="2356.0" x2="1360.4" y2="2364.0" stroke-width="3.14" stroke-linecap="butt"/>
<line x1="1360.3" y1="2372.0" x2="1359.8" y2="2446.7" stroke-width="3.14" stroke-linecap="butt"/>
</g>
<g fill="#000" stroke="#000" stroke-width="0.5" font-family="Liberation Sans, sans-serif">
<rect x="1708" y="1433" width="68" height="45" fill="#fff" stroke="none"/>
<rect x="1719" y="1520" width="82" height="50" fill="#fff" stroke="none"/>
<rect x="1219" y="1919" width="72" height="51" fill="#fff" stroke="none"/>
<text transform="translate(1209.2,447.1) scale(0.9767,1)" font-size="60.32">N</text>
<text transform="translate(1253.7,447.1) scale(1.1202,1)" font-size="54.38">o</text>
<rect x="1293.5" y="439.6" width="5.1" height="7.5" rx="1.5"/>
<path d="M 1334.4,447.1 L 1340.8,447.1 L 1340.8,405.6 L 1335.4,405.6 Q 1333.4,411.6 1325.5,414.6 L 1325.5,420.1 Q 1332.4,417.6 1334.4,415.1 Z"/>
<text transform="translate(1379.4,447.1) scale(0.8770,1)" font-size="60.32">S</text>
<text transform="translate(1414.8,447.1) scale(1.0073,1)" font-size="60.32">T</text>
<text transform="translate(1451.8,447.1) scale(0.7985,1)" font-size="60.32">R</text>
<text transform="translate(1490.2,447.1) scale(0.9704,1)" font-size="60.32">U</text>
<text transform="translate(1531.8,447.1) scale(1.0073,1)" font-size="60.32">T</text>
<text transform="translate(560.2,632.6) scale(0.9818,1)" font-size="59.01">N</text>
<text transform="translate(604.1,632.6) scale(1.1261,1)" font-size="53.20">o</text>
<rect x="643.2" y="625.1" width="5.0" height="7.5" rx="1.5"/>
<path d="M 683.9,632.6 L 690.3,632.6 L 690.3,592.0 L 684.9,592.0 Q 682.9,598.0 675.2,601.0 L 675.2,606.5 Q 681.9,604.0 683.9,601.5 Z"/>
<text transform="translate(700.7,632.6) scale(0.9171,1)" font-size="58.17">0</text>
<text transform="translate(760.5,632.6) scale(0.8969,1)" font-size="59.01">S</text>
<text transform="translate(795.9,632.6) scale(1.0302,1)" font-size="59.01">T</text>
<text transform="translate(832.9,632.6) scale(0.8166,1)" font-size="59.01">R</text>
<text transform="translate(871.3,632.6) scale(0.9925,1)" font-size="59.01">U</text>
<text transform="translate(913.0,632.6) scale(1.0302,1)" font-size="59.01">T</text>
<text transform="translate(1954.7,681.0) scale(0.9699,1)" font-size="59.59">N</text>
<text transform="translate(1998.4,681.0) scale(1.1124,1)" font-size="53.73">o</text>
<rect x="2037.4" y="673.5" width="5.0" height="7.5" rx="1.5"/>
<text transform="translate(2062.4,681.0) scale(0.9529,1)" font-size="58.74">2</text>
<text transform="translate(2123.1,681.0) scale(0.8872,1)" font-size="59.59">S</text>
<text transform="translate(2158.5,681.0) scale(1.0190,1)" font-size="59.59">T</text>
<text transform="translate(2195.4,681.0) scale(0.8078,1)" font-size="59.59">R</text>
<text transform="translate(2233.8,681.0) scale(0.9817,1)" font-size="59.59">U</text>
<text transform="translate(2275.4,681.0) scale(1.0190,1)" font-size="59.59">T</text>
<text transform="translate(205.3,1114.9) scale(0.9629,1)" font-size="59.59">N</text>
<text transform="translate(248.7,1114.9) scale(1.1044,1)" font-size="53.73">o</text>
<rect x="287.5" y="1107.4" width="4.9" height="7.5" rx="1.5"/>
<text transform="translate(312.5,1114.9) scale(0.9877,1)" font-size="58.74">9</text>
<text transform="translate(374.3,1114.9) scale(0.8815,1)" font-size="59.59">S</text>
<text transform="translate(409.5,1114.9) scale(1.0124,1)" font-size="59.59">T</text>
<text transform="translate(446.2,1114.9) scale(0.8026,1)" font-size="59.59">R</text>
<text transform="translate(484.3,1114.9) scale(0.9754,1)" font-size="59.59">U</text>
<text transform="translate(525.6,1114.9) scale(1.0124,1)" font-size="59.59">T</text>
<text transform="translate(2147.5,1133.7) scale(0.9922,1)" font-size="59.45">N</text>
<text transform="translate(2192.1,1133.7) scale(1.1380,1)" font-size="53.60">o</text>
<rect x="2231.9" y="1126.2" width="5.1" height="7.5" rx="1.5"/>
<text transform="translate(2257.6,1133.7) scale(0.9791,1)" font-size="58.60">3</text>
<text transform="translate(2317.7,1133.7) scale(0.8889,1)" font-size="59.45">S</text>
<text transform="translate(2353.1,1133.7) scale(1.0209,1)" font-size="59.45">T</text>
<text transform="translate(2390.0,1133.7) scale(0.8093,1)" font-size="59.45">R</text>
<text transform="translate(2428.4,1133.7) scale(0.9836,1)" font-size="59.45">U</text>
<text transform="translate(2469.9,1133.7) scale(1.0209,1)" font-size="59.45">T</text>
<text transform="translate(255.2,1886.0) scale(0.9890,1)" font-size="58.87">N</text>
<text transform="translate(299.3,1886.0) scale(1.1343,1)" font-size="53.07">o</text>
<rect x="338.6" y="1878.5" width="5.0" height="7.5" rx="1.5"/>
<text transform="translate(362.6,1886.0) scale(1.0211,1)" font-size="58.02">8</text>
<text transform="translate(424.3,1886.0) scale(0.8924,1)" font-size="58.87">S</text>
<text transform="translate(459.5,1886.0) scale(1.0249,1)" font-size="58.87">T</text>
<text transform="translate(496.2,1886.0) scale(0.8125,1)" font-size="58.87">R</text>
<text transform="translate(534.3,1886.0) scale(0.9874,1)" font-size="58.87">U</text>
<text transform="translate(575.6,1886.0) scale(1.0249,1)" font-size="58.87">T</text>
<text transform="translate(2095.2,1882.0) scale(0.9973,1)" font-size="58.87">N</text>
<text transform="translate(2139.6,1882.0) scale(1.1438,1)" font-size="53.07">o</text>
<rect x="2179.2" y="1874.5" width="5.1" height="7.5" rx="1.5"/>
<text transform="translate(2205.7,1882.0) scale(0.9679,1)" font-size="58.02">4</text>
<text transform="translate(2265.4,1883.0) scale(0.9035,1)" font-size="58.87">S</text>
<text transform="translate(2301.0,1883.0) scale(1.0377,1)" font-size="58.87">T</text>
<text transform="translate(2338.1,1883.0) scale(0.8226,1)" font-size="58.87">R</text>
<text transform="translate(2376.8,1883.0) scale(0.9997,1)" font-size="58.87">U</text>
<text transform="translate(2418.6,1883.0) scale(1.0377,1)" font-size="58.87">T</text>
<text transform="translate(569.1,2338.3) scale(0.9961,1)" font-size="58.87">N</text>
<text transform="translate(613.5,2338.3) scale(1.1424,1)" font-size="53.07">o</text>
<rect x="653.0" y="2330.8" width="5.1" height="7.5" rx="1.5"/>
<text transform="translate(678.0,2338.3) scale(0.9743,1)" font-size="58.02">7</text>
<text transform="translate(738.8,2338.3) scale(0.8924,1)" font-size="58.87">S</text>
<text transform="translate(774.0,2338.3) scale(1.0249,1)" font-size="58.87">T</text>
<text transform="translate(810.7,2338.3) scale(0.8125,1)" font-size="58.87">R</text>
<text transform="translate(848.8,2338.3) scale(0.9874,1)" font-size="58.87">U</text>
<text transform="translate(890.1,2338.3) scale(1.0249,1)" font-size="58.87">T</text>
<text transform="translate(1754.6,2347.8) scale(0.9698,1)" font-size="60.47">N</text>
<text transform="translate(1799.0,2347.8) scale(1.1122,1)" font-size="54.51">o</text>
<rect x="1838.5" y="2340.3" width="5.1" height="7.5" rx="1.5"/>
<text transform="translate(1864.2,2347.8) scale(0.9095,1)" font-size="59.60">5</text>
<text transform="translate(1924.3,2347.8) scale(0.8740,1)" font-size="60.47">S</text>
<text transform="translate(1959.7,2347.8) scale(1.0038,1)" font-size="60.47">T</text>
<text transform="translate(1996.6,2347.8) scale(0.7957,1)" font-size="60.47">R</text>
<text transform="translate(2035.0,2347.8) scale(0.9670,1)" font-size="60.47">U</text>
<text transform="translate(2076.5,2347.8) scale(1.0038,1)" font-size="60.47">T</text>
<text transform="translate(1172.5,2523.7) scale(0.9875,1)" font-size="59.45">N</text>
<text transform="translate(1216.9,2523.7) scale(1.1326,1)" font-size="53.60">o</text>
<rect x="1256.5" y="2516.2" width="5.1" height="7.5" rx="1.5"/>
<text transform="translate(1281.2,2523.7) scale(1.0282,1)" font-size="58.60">6</text>
<text transform="translate(1342.3,2523.7) scale(0.8832,1)" font-size="59.45">S</text>
<text transform="translate(1377.4,2523.7) scale(1.0143,1)" font-size="59.45">T</text>
<text transform="translate(1414.1,2523.7) scale(0.8041,1)" font-size="59.45">R</text>
<text transform="translate(1452.3,2523.7) scale(0.9772,1)" font-size="59.45">U</text>
<text transform="translate(1493.6,2523.7) scale(1.0143,1)" font-size="59.45">T</text>
<text transform="translate(2402.8,3023.2) scale(0.9885,1)" font-size="57.56">B</text>
<text transform="translate(2440.4,3023.2) scale(1.0182,1)" font-size="56.73">0</text>
<text transform="translate(2470.5,3023.2) scale(1.0403,1)" font-size="56.73">7</text>
<text transform="translate(2503.3,3023.2) scale(1.0178,1)" font-size="56.73">9</text>
<text transform="translate(2537.5,3023.2) scale(0.9216,1)" font-size="56.73">5</text>
<text transform="translate(1859.6,1073.9) scale(0.8718,1)" font-size="59.59">FG</text>
<text transform="translate(1735.2,1249.8) scale(0.8467,1)" font-size="58.87">FG</text>
<text transform="translate(1945.9,1199.5) scale(0.9242,1)" font-size="55.16">CC</text>
<text transform="translate(1381.1,1403.0) scale(0.9764,1)" font-size="55.16">CC</text>
<text transform="translate(648.3,1426.0) scale(0.9250,1)" font-size="58.14">TE</text>
<text transform="translate(863.9,1460.7) scale(0.9033,1)" font-size="56.25">TE</text>
<text transform="translate(1712.9,1476.0) scale(0.8957,1)" font-size="55.67">TF</text>
<text transform="translate(2046.8,1406.0) scale(0.8977,1)" font-size="58.14">TF</text>
<text transform="translate(1721.2,1564.5) scale(0.9768,1)" font-size="55.96">HE</text>
<text transform="translate(1713.5,1772.0) scale(0.9388,1)" font-size="58.14">HE</text>
<text transform="translate(1414.1,1745.0) scale(0.9022,1)" font-size="58.14">LE</text>
<text transform="translate(1222.0,1964.0) scale(0.9390,1)" font-size="55.96">LE</text>
</g>
</svg>
</body></html>
